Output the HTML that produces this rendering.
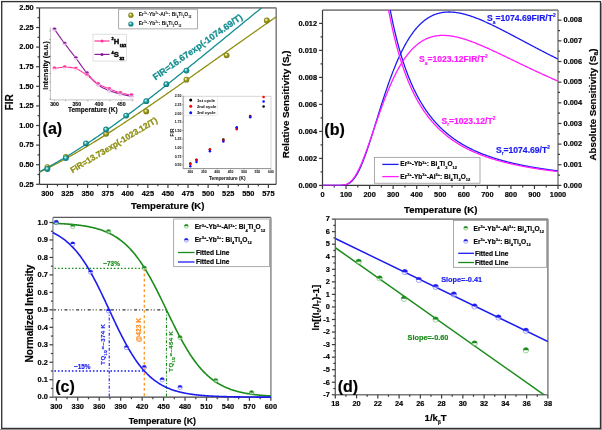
<!DOCTYPE html>
<html><head><meta charset="utf-8"><title>Figure</title>
<style>
html,body{margin:0;padding:0;background:#fff;}
body{width:602px;height:430px;overflow:hidden;}
svg{display:block;font-family:"Liberation Sans", sans-serif;will-change:transform;filter:blur(0.3px);}
</style></head>
<body>
<svg width="602" height="430" viewBox="0 0 602 430">
<rect x="0" y="0" width="602" height="430" fill="#fff"/>
<rect x="601" y="3" width="1" height="427" fill="#ababab"/>
<rect x="0" y="429" width="602" height="1" fill="#a0a0a0"/>
<rect x="1.7" y="1.6" width="598.8" height="426.85" fill="none" stroke="#333333" stroke-width="1.35" />
<line x1="39.5" y1="7.85" x2="276.2" y2="7.85" stroke="#858585" stroke-width="1.6" />
<line x1="276.2" y1="7.85" x2="276.2" y2="184.3" stroke="#858585" stroke-width="1.6" />
<line x1="39.5" y1="184.3" x2="276.2" y2="184.3" stroke="#3a3a3a" stroke-width="1.2" />
<line x1="39.5" y1="7.85" x2="39.5" y2="184.3" stroke="#3a3a3a" stroke-width="1.2" />
<line x1="47.4" y1="184.3" x2="47.4" y2="187.9" stroke="#3a3a3a" stroke-width="1.2" />
<line x1="67.49" y1="184.3" x2="67.49" y2="187.9" stroke="#3a3a3a" stroke-width="1.2" />
<line x1="87.58" y1="184.3" x2="87.58" y2="187.9" stroke="#3a3a3a" stroke-width="1.2" />
<line x1="107.67" y1="184.3" x2="107.67" y2="187.9" stroke="#3a3a3a" stroke-width="1.2" />
<line x1="127.76" y1="184.3" x2="127.76" y2="187.9" stroke="#3a3a3a" stroke-width="1.2" />
<line x1="147.85" y1="184.3" x2="147.85" y2="187.9" stroke="#3a3a3a" stroke-width="1.2" />
<line x1="167.94" y1="184.3" x2="167.94" y2="187.9" stroke="#3a3a3a" stroke-width="1.2" />
<line x1="188.03" y1="184.3" x2="188.03" y2="187.9" stroke="#3a3a3a" stroke-width="1.2" />
<line x1="208.12" y1="184.3" x2="208.12" y2="187.9" stroke="#3a3a3a" stroke-width="1.2" />
<line x1="228.21" y1="184.3" x2="228.21" y2="187.9" stroke="#3a3a3a" stroke-width="1.2" />
<line x1="248.3" y1="184.3" x2="248.3" y2="187.9" stroke="#3a3a3a" stroke-width="1.2" />
<line x1="268.39" y1="184.3" x2="268.39" y2="187.9" stroke="#3a3a3a" stroke-width="1.2" />
<line x1="57.45" y1="184.3" x2="57.45" y2="186.3" stroke="#3a3a3a" stroke-width="1.2" />
<line x1="77.53" y1="184.3" x2="77.53" y2="186.3" stroke="#3a3a3a" stroke-width="1.2" />
<line x1="97.62" y1="184.3" x2="97.62" y2="186.3" stroke="#3a3a3a" stroke-width="1.2" />
<line x1="117.72" y1="184.3" x2="117.72" y2="186.3" stroke="#3a3a3a" stroke-width="1.2" />
<line x1="137.81" y1="184.3" x2="137.81" y2="186.3" stroke="#3a3a3a" stroke-width="1.2" />
<line x1="157.89" y1="184.3" x2="157.89" y2="186.3" stroke="#3a3a3a" stroke-width="1.2" />
<line x1="177.99" y1="184.3" x2="177.99" y2="186.3" stroke="#3a3a3a" stroke-width="1.2" />
<line x1="198.07" y1="184.3" x2="198.07" y2="186.3" stroke="#3a3a3a" stroke-width="1.2" />
<line x1="218.16" y1="184.3" x2="218.16" y2="186.3" stroke="#3a3a3a" stroke-width="1.2" />
<line x1="238.25" y1="184.3" x2="238.25" y2="186.3" stroke="#3a3a3a" stroke-width="1.2" />
<line x1="258.34" y1="184.3" x2="258.34" y2="186.3" stroke="#3a3a3a" stroke-width="1.2" />
<line x1="39.5" y1="184.3" x2="36.1" y2="184.3" stroke="#3a3a3a" stroke-width="1.2" />
<line x1="39.5" y1="164.7" x2="36.1" y2="164.7" stroke="#3a3a3a" stroke-width="1.2" />
<line x1="39.5" y1="145.1" x2="36.1" y2="145.1" stroke="#3a3a3a" stroke-width="1.2" />
<line x1="39.5" y1="125.5" x2="36.1" y2="125.5" stroke="#3a3a3a" stroke-width="1.2" />
<line x1="39.5" y1="105.9" x2="36.1" y2="105.9" stroke="#3a3a3a" stroke-width="1.2" />
<line x1="39.5" y1="86.3" x2="36.1" y2="86.3" stroke="#3a3a3a" stroke-width="1.2" />
<line x1="39.5" y1="66.7" x2="36.1" y2="66.7" stroke="#3a3a3a" stroke-width="1.2" />
<line x1="39.5" y1="47.1" x2="36.1" y2="47.1" stroke="#3a3a3a" stroke-width="1.2" />
<line x1="39.5" y1="27.5" x2="36.1" y2="27.5" stroke="#3a3a3a" stroke-width="1.2" />
<line x1="39.5" y1="7.9" x2="36.1" y2="7.9" stroke="#3a3a3a" stroke-width="1.2" />
<line x1="39.5" y1="174.5" x2="37.5" y2="174.5" stroke="#3a3a3a" stroke-width="1.2" />
<line x1="39.5" y1="154.9" x2="37.5" y2="154.9" stroke="#3a3a3a" stroke-width="1.2" />
<line x1="39.5" y1="135.3" x2="37.5" y2="135.3" stroke="#3a3a3a" stroke-width="1.2" />
<line x1="39.5" y1="115.7" x2="37.5" y2="115.7" stroke="#3a3a3a" stroke-width="1.2" />
<line x1="39.5" y1="96.1" x2="37.5" y2="96.1" stroke="#3a3a3a" stroke-width="1.2" />
<line x1="39.5" y1="76.5" x2="37.5" y2="76.5" stroke="#3a3a3a" stroke-width="1.2" />
<line x1="39.5" y1="56.9" x2="37.5" y2="56.9" stroke="#3a3a3a" stroke-width="1.2" />
<line x1="39.5" y1="37.3" x2="37.5" y2="37.3" stroke="#3a3a3a" stroke-width="1.2" />
<line x1="39.5" y1="17.7" x2="37.5" y2="17.7" stroke="#3a3a3a" stroke-width="1.2" />
<text x="47.4" y="196.05" font-size="7.4" text-anchor="middle" fill="#000" font-weight="bold"  stroke="#000" stroke-width="0.180">300</text>
<text x="67.49" y="196.05" font-size="7.4" text-anchor="middle" fill="#000" font-weight="bold"  stroke="#000" stroke-width="0.180">325</text>
<text x="87.58" y="196.05" font-size="7.4" text-anchor="middle" fill="#000" font-weight="bold"  stroke="#000" stroke-width="0.180">350</text>
<text x="107.67" y="196.05" font-size="7.4" text-anchor="middle" fill="#000" font-weight="bold"  stroke="#000" stroke-width="0.180">375</text>
<text x="127.76" y="196.05" font-size="7.4" text-anchor="middle" fill="#000" font-weight="bold"  stroke="#000" stroke-width="0.180">400</text>
<text x="147.85" y="196.05" font-size="7.4" text-anchor="middle" fill="#000" font-weight="bold"  stroke="#000" stroke-width="0.180">425</text>
<text x="167.94" y="196.05" font-size="7.4" text-anchor="middle" fill="#000" font-weight="bold"  stroke="#000" stroke-width="0.180">450</text>
<text x="188.03" y="196.05" font-size="7.4" text-anchor="middle" fill="#000" font-weight="bold"  stroke="#000" stroke-width="0.180">475</text>
<text x="208.12" y="196.05" font-size="7.4" text-anchor="middle" fill="#000" font-weight="bold"  stroke="#000" stroke-width="0.180">500</text>
<text x="228.21" y="196.05" font-size="7.4" text-anchor="middle" fill="#000" font-weight="bold"  stroke="#000" stroke-width="0.180">525</text>
<text x="248.3" y="196.05" font-size="7.4" text-anchor="middle" fill="#000" font-weight="bold"  stroke="#000" stroke-width="0.180">550</text>
<text x="268.39" y="196.05" font-size="7.4" text-anchor="middle" fill="#000" font-weight="bold"  stroke="#000" stroke-width="0.180">575</text>
<text x="33.7" y="186.55" font-size="7.4" text-anchor="end" fill="#000" font-weight="bold"  stroke="#000" stroke-width="0.180">0.25</text>
<text x="33.7" y="166.95" font-size="7.4" text-anchor="end" fill="#000" font-weight="bold"  stroke="#000" stroke-width="0.180">0.50</text>
<text x="33.7" y="147.35" font-size="7.4" text-anchor="end" fill="#000" font-weight="bold"  stroke="#000" stroke-width="0.180">0.75</text>
<text x="33.7" y="127.75" font-size="7.4" text-anchor="end" fill="#000" font-weight="bold"  stroke="#000" stroke-width="0.180">1.00</text>
<text x="33.7" y="108.15" font-size="7.4" text-anchor="end" fill="#000" font-weight="bold"  stroke="#000" stroke-width="0.180">1.25</text>
<text x="33.7" y="88.55" font-size="7.4" text-anchor="end" fill="#000" font-weight="bold"  stroke="#000" stroke-width="0.180">1.50</text>
<text x="33.7" y="68.95" font-size="7.4" text-anchor="end" fill="#000" font-weight="bold"  stroke="#000" stroke-width="0.180">1.75</text>
<text x="33.7" y="49.35" font-size="7.4" text-anchor="end" fill="#000" font-weight="bold"  stroke="#000" stroke-width="0.180">2.00</text>
<text x="33.7" y="29.75" font-size="7.4" text-anchor="end" fill="#000" font-weight="bold"  stroke="#000" stroke-width="0.180">2.25</text>
<text x="33.7" y="10.15" font-size="7.4" text-anchor="end" fill="#000" font-weight="bold"  stroke="#000" stroke-width="0.180">2.50</text>
<text x="167.8" y="208.6" font-size="9.6" text-anchor="middle" fill="#000" font-weight="bold"  stroke="#000" stroke-width="0.180">Temperature (K)</text>
<text x="12.9" y="102.3" font-size="10.0" text-anchor="middle" fill="#000" font-weight="bold" transform="rotate(-90 12.9 102.3)"  stroke="#000" stroke-width="0.180">FIR</text>
<text x="42.55" y="133.95" font-size="16" text-anchor="start" fill="#000" font-weight="bold"  stroke="#000" stroke-width="0.180">(a)</text>
<defs><radialGradient id="gO" cx="0.5" cy="0.5" r="0.55" fx="0.36" fy="0.34"><stop offset="0" stop-color="#ffffff"/><stop offset="0.22" stop-color="#dede98"/><stop offset="0.5" stop-color="#9a9a1e"/><stop offset="1" stop-color="#707004"/></radialGradient><radialGradient id="gT" cx="0.5" cy="0.5" r="0.55" fx="0.36" fy="0.34"><stop offset="0" stop-color="#ffffff"/><stop offset="0.22" stop-color="#98dede"/><stop offset="0.5" stop-color="#1e9a9a"/><stop offset="1" stop-color="#047070"/></radialGradient></defs>
<polyline points="39.2,172.37 40.39,171.8 41.57,171.23 42.76,170.65 43.94,170.07 45.13,169.48 46.31,168.89 47.5,168.3 48.68,167.7 49.87,167.1 51.05,166.49 52.24,165.88 53.42,165.27 54.61,164.65 55.79,164.03 56.98,163.4 58.16,162.77 59.35,162.14 60.53,161.5 61.72,160.86 62.9,160.21 64.09,159.56 65.27,158.91 66.46,158.26 67.64,157.6 68.83,156.94 70.01,156.27 71.2,155.6 72.38,154.93 73.57,154.25 74.75,153.58 75.94,152.89 77.12,152.21 78.31,151.52 79.49,150.83 80.68,150.13 81.86,149.44 83.04,148.74 84.23,148.03 85.41,147.33 86.6,146.62 87.78,145.91 88.97,145.19 90.15,144.47 91.34,143.75 92.52,143.03 93.71,142.31 94.89,141.58 96.08,140.85 97.26,140.12 98.45,139.38 99.63,138.64 100.82,137.9 102,137.16 103.19,136.42 104.37,135.67 105.56,134.92 106.74,134.17 107.93,133.41 109.11,132.66 110.3,131.9 111.48,131.14 112.67,130.38 113.85,129.61 115.04,128.85 116.22,128.08 117.41,127.31 118.59,126.54 119.78,125.76 120.96,124.99 122.15,124.21 123.33,123.43 124.52,122.65 125.7,121.87 126.89,121.08 128.07,120.3 129.26,119.51 130.44,118.72 131.63,117.93 132.81,117.14 134,116.34 135.18,115.55 136.37,114.75 137.55,113.95 138.74,113.15 139.92,112.35 141.11,111.55 142.29,110.75 143.48,109.94 144.66,109.14 145.85,108.33 147.03,107.52 148.21,106.71 149.4,105.9 150.58,105.09 151.77,104.28 152.95,103.46 154.14,102.65 155.32,101.83 156.51,101.02 157.69,100.2 158.88,99.38 160.06,98.56 161.25,97.74 162.43,96.92 163.62,96.1 164.8,95.27 165.99,94.45 167.17,93.63 168.36,92.8 169.54,91.97 170.73,91.15 171.91,90.32 173.1,89.49 174.28,88.66 175.47,87.83 176.65,87 177.84,86.17 179.02,85.34 180.21,84.51 181.39,83.68 182.58,82.84 183.76,82.01 184.95,81.18 186.13,80.34 187.32,79.51 188.5,78.67 189.69,77.84 190.87,77 192.06,76.17 193.24,75.33 194.43,74.49 195.61,73.66 196.8,72.82 197.98,71.98 199.17,71.14 200.35,70.3 201.54,69.47 202.72,68.63 203.91,67.79 205.09,66.95 206.28,66.11 207.46,65.27 208.65,64.43 209.83,63.59 211.01,62.75 212.2,61.91 213.38,61.07 214.57,60.23 215.75,59.39 216.94,58.55 218.12,57.71 219.31,56.87 220.49,56.03 221.68,55.19 222.86,54.36 224.05,53.52 225.23,52.68 226.42,51.84 227.6,51 228.79,50.16 229.97,49.32 231.16,48.48 232.34,47.64 233.53,46.8 234.71,45.96 235.9,45.13 237.08,44.29 238.27,43.45 239.45,42.61 240.64,41.77 241.82,40.94 243.01,40.1 244.19,39.26 245.38,38.43 246.56,37.59 247.75,36.76 248.93,35.92 250.12,35.08 251.3,34.25 252.49,33.42 253.67,32.58 254.86,31.75 256.04,30.91 257.23,30.08 258.41,29.25 259.6,28.42 260.78,27.58 261.97,26.75 263.15,25.92 264.34,25.09 265.52,24.26 266.71,23.43 267.89,22.6 269.08,21.77 270.26,20.94 271.45,20.12 272.63,19.29 273.82,18.46 275,17.64 276.18,16.81" fill="none" stroke="#8f8f12" stroke-width="1.3" stroke-linejoin="round" />
<polyline points="39.2,171.86 40.39,171.25 41.57,170.64 42.76,170.02 43.94,169.4 45.13,168.77 46.31,168.14 47.5,167.5 48.68,166.86 49.87,166.21 51.05,165.56 52.24,164.9 53.42,164.24 54.61,163.57 55.79,162.9 56.98,162.22 58.16,161.54 59.35,160.85 60.53,160.16 61.72,159.47 62.9,158.77 64.09,158.07 65.27,157.36 66.46,156.65 67.64,155.93 68.83,155.21 70.01,154.48 71.2,153.75 72.38,153.02 73.57,152.28 74.75,151.54 75.94,150.79 77.12,150.05 78.31,149.29 79.49,148.53 80.68,147.77 81.86,147.01 83.04,146.24 84.23,145.47 85.41,144.69 86.6,143.91 87.78,143.13 88.97,142.34 90.15,141.55 91.34,140.76 92.52,139.96 93.71,139.16 94.89,138.36 96.08,137.55 97.26,136.74 98.45,135.93 99.63,135.11 100.82,134.29 102,133.47 103.19,132.64 104.37,131.81 105.56,130.98 106.74,130.14 107.93,129.31 109.11,128.47 110.3,127.62 111.48,126.78 112.67,125.93 113.85,125.08 115.04,124.22 116.22,123.37 117.41,122.51 118.59,121.64 119.78,120.78 120.96,119.91 122.15,119.04 123.33,118.17 124.52,117.3 125.7,116.42 126.89,115.54 128.07,114.66 129.26,113.78 130.44,112.89 131.63,112.01 132.81,111.12 134,110.22 135.18,109.33 136.37,108.43 137.55,107.54 138.74,106.64 139.92,105.74 141.11,104.83 142.29,103.93 143.48,103.02 144.66,102.11 145.85,101.2 147.03,100.29 148.21,99.37 149.4,98.46 150.58,97.54 151.77,96.62 152.95,95.7 154.14,94.78 155.32,93.85 156.51,92.93 157.69,92 158.88,91.07 160.06,90.14 161.25,89.21 162.43,88.28 163.62,87.35 164.8,86.41 165.99,85.48 167.17,84.54 168.36,83.6 169.54,82.66 170.73,81.72 171.91,80.78 173.1,79.83 174.28,78.89 175.47,77.94 176.65,77 177.84,76.05 179.02,75.1 180.21,74.15 181.39,73.2 182.58,72.25 183.76,71.3 184.95,70.35 186.13,69.39 187.32,68.44 188.5,67.48 189.69,66.53 190.87,65.57 192.06,64.61 193.24,63.65 194.43,62.69 195.61,61.73 196.8,60.77 197.98,59.81 199.17,58.85 200.35,57.89 201.54,56.93 202.72,55.96 203.91,55 205.09,54.04 206.28,53.07 207.46,52.11 208.65,51.14 209.83,50.18 211.01,49.21 212.2,48.24 213.38,47.28 214.57,46.31 215.75,45.34 216.94,44.37 218.12,43.4 219.31,42.43 220.49,41.47 221.68,40.5 222.86,39.53 224.05,38.56 225.23,37.59 226.42,36.62 227.6,35.65 228.79,34.68 229.97,33.71 231.16,32.74 232.34,31.77 233.53,30.8 234.71,29.83 235.9,28.86 237.08,27.88 238.27,26.91 239.45,25.94 240.64,24.97 241.82,24 243.01,23.03 244.19,22.06 245.38,21.09 246.56,20.12 247.75,19.15 248.93,18.18 250.12,17.21 251.3,16.24 252.49,15.27 253.67,14.3 254.86,13.33 256.04,12.36 257.23,11.39 258.41,10.42 259.6,9.46 260.78,8.49 261.97,7.85" fill="none" stroke="#138d8f" stroke-width="1.3" stroke-linejoin="round" />
<circle cx="47.4" cy="167.05" r="2.9" fill="url(#gO)" stroke="none" stroke-width="0" />
<circle cx="65.88" cy="156.86" r="2.9" fill="url(#gO)" stroke="none" stroke-width="0" />
<circle cx="106.06" cy="133.73" r="2.9" fill="url(#gO)" stroke="none" stroke-width="0" />
<circle cx="146.24" cy="111.39" r="2.9" fill="url(#gO)" stroke="none" stroke-width="0" />
<circle cx="186.42" cy="79.64" r="2.9" fill="url(#gO)" stroke="none" stroke-width="0" />
<circle cx="226.6" cy="55.33" r="2.9" fill="url(#gO)" stroke="none" stroke-width="0" />
<circle cx="266.78" cy="20.44" r="2.9" fill="url(#gO)" stroke="none" stroke-width="0" />
<circle cx="47.4" cy="169.01" r="2.9" fill="url(#gT)" stroke="none" stroke-width="0" />
<circle cx="65.88" cy="158.04" r="2.9" fill="url(#gT)" stroke="none" stroke-width="0" />
<circle cx="85.97" cy="143.38" r="2.9" fill="url(#gT)" stroke="none" stroke-width="0" />
<circle cx="106.06" cy="129.5" r="2.9" fill="url(#gT)" stroke="none" stroke-width="0" />
<circle cx="126.15" cy="115.54" r="2.9" fill="url(#gT)" stroke="none" stroke-width="0" />
<circle cx="146.24" cy="101.2" r="2.9" fill="url(#gT)" stroke="none" stroke-width="0" />
<circle cx="166.33" cy="84.18" r="2.9" fill="url(#gT)" stroke="none" stroke-width="0" />
<circle cx="186.42" cy="70.62" r="2.9" fill="url(#gT)" stroke="none" stroke-width="0" />
<text x="155.5" y="80.5" font-size="9.0" text-anchor="start" fill="#138d8f" font-weight="bold" transform="rotate(-35.3 155.5 80.5)" stroke="#138d8f" stroke-width="0.25">FIR=16.67exp(-1074.69/T)</text>
<text x="72.4" y="173.2" font-size="8.4" text-anchor="start" fill="#8f8f12" font-weight="bold" transform="rotate(-30.9 72.4 173.2)" stroke="#8f8f12" stroke-width="0.3">FIR=13.73exp(-1023.12/T)</text>
<rect x="118.7" y="9.2" width="78.7" height="19.7" fill="none" stroke="#888" stroke-width="0.7" />
<circle cx="130.9" cy="15.2" r="2.6" fill="url(#gO)" stroke="none" stroke-width="0" />
<circle cx="130.9" cy="24" r="2.6" fill="url(#gT)" stroke="none" stroke-width="0" />
<text x="138.7" y="16.4" font-size="5.0" text-anchor="start" fill="#000" font-weight="bold" stroke="none">Er<tspan font-size="2.9" dy="-2.4">3+</tspan><tspan dy="2.4">-Yb</tspan><tspan font-size="2.9" dy="-2.4">3+</tspan><tspan dy="2.4">-Al</tspan><tspan font-size="2.9" dy="-2.4">3+</tspan><tspan dy="2.4">: Bi</tspan><tspan font-size="2.9" dy="1.8">4</tspan><tspan dy="-1.8">Ti</tspan><tspan font-size="2.9" dy="1.8">3</tspan><tspan dy="-1.8">O</tspan><tspan font-size="2.9" dy="1.8">12</tspan></text>
<text x="138.7" y="25.3" font-size="5.0" text-anchor="start" fill="#000" font-weight="bold" stroke="none">Er<tspan font-size="2.9" dy="-2.4">3+</tspan><tspan dy="2.4">-Yb</tspan><tspan font-size="2.9" dy="-2.4">3+</tspan><tspan dy="2.4">: Bi</tspan><tspan font-size="2.9" dy="1.8">4</tspan><tspan dy="-1.8">Ti</tspan><tspan font-size="2.9" dy="1.8">3</tspan><tspan dy="-1.8">O</tspan><tspan font-size="2.9" dy="1.8">12</tspan></text>
<line x1="50.5" y1="27.5" x2="50.5" y2="99.9" stroke="#aaa" stroke-width="0.7" />
<line x1="50.5" y1="99.9" x2="134" y2="99.9" stroke="#aaa" stroke-width="0.7" />
<line x1="54.5" y1="99.9" x2="54.5" y2="101.4" stroke="#888" stroke-width="0.6" />
<line x1="65.62" y1="99.9" x2="65.62" y2="101.4" stroke="#888" stroke-width="0.6" />
<line x1="76.75" y1="99.9" x2="76.75" y2="101.4" stroke="#888" stroke-width="0.6" />
<line x1="87.88" y1="99.9" x2="87.88" y2="101.4" stroke="#888" stroke-width="0.6" />
<line x1="99" y1="99.9" x2="99" y2="101.4" stroke="#888" stroke-width="0.6" />
<line x1="110.12" y1="99.9" x2="110.12" y2="101.4" stroke="#888" stroke-width="0.6" />
<line x1="121.25" y1="99.9" x2="121.25" y2="101.4" stroke="#888" stroke-width="0.6" />
<line x1="132.38" y1="99.9" x2="132.38" y2="101.4" stroke="#888" stroke-width="0.6" />
<line x1="50.5" y1="31" x2="49" y2="31" stroke="#888" stroke-width="0.6" />
<line x1="50.5" y1="39.5" x2="49" y2="39.5" stroke="#888" stroke-width="0.6" />
<line x1="50.5" y1="48" x2="49" y2="48" stroke="#888" stroke-width="0.6" />
<line x1="50.5" y1="56.5" x2="49" y2="56.5" stroke="#888" stroke-width="0.6" />
<line x1="50.5" y1="65" x2="49" y2="65" stroke="#888" stroke-width="0.6" />
<line x1="50.5" y1="73.5" x2="49" y2="73.5" stroke="#888" stroke-width="0.6" />
<line x1="50.5" y1="82" x2="49" y2="82" stroke="#888" stroke-width="0.6" />
<line x1="50.5" y1="90.5" x2="49" y2="90.5" stroke="#888" stroke-width="0.6" />
<line x1="50.5" y1="99" x2="49" y2="99" stroke="#888" stroke-width="0.6" />
<text x="54.5" y="106.4" font-size="5.2" text-anchor="middle" fill="#111" font-weight="bold"  stroke="#111" stroke-width="0.130">300</text>
<text x="76.75" y="106.4" font-size="5.2" text-anchor="middle" fill="#111" font-weight="bold"  stroke="#111" stroke-width="0.130">350</text>
<text x="99" y="106.4" font-size="5.2" text-anchor="middle" fill="#111" font-weight="bold"  stroke="#111" stroke-width="0.130">400</text>
<text x="121.25" y="106.4" font-size="5.2" text-anchor="middle" fill="#111" font-weight="bold"  stroke="#111" stroke-width="0.130">450</text>
<text x="92.8" y="112.4" font-size="6.5" text-anchor="middle" fill="#111" font-weight="bold"  stroke="#111" stroke-width="0.163">Temperature (K)</text>
<text x="48.5" y="65.4" font-size="7.2" text-anchor="middle" fill="#111" font-weight="bold" transform="rotate(-90 48.5 65.4)"  stroke="#111" stroke-width="0.180">Intensity (a.u.)</text>
<polyline points="54.5,29.4 55.28,30.49 56.32,31.94 57.55,33.67 58.92,35.59 60.38,37.63 61.87,39.7 63.34,41.71 64.73,43.6 66.08,45.39 67.45,47.19 68.84,48.99 70.24,50.79 71.65,52.61 73.06,54.43 74.46,56.26 75.86,58.1 77.25,59.98 78.64,61.91 80.03,63.87 81.42,65.83 82.81,67.77 84.2,69.66 85.59,71.48 86.98,73.2 88.38,74.86 89.77,76.48 91.16,78.06 92.55,79.58 93.94,81.03 95.33,82.39 96.72,83.65 98.11,84.8 99.5,85.82 100.89,86.71 102.28,87.51 103.67,88.21 105.06,88.86 106.45,89.45 107.84,90.03 109.23,90.6 110.63,91.15 112.02,91.64 113.41,92.09 114.8,92.51 116.19,92.9 117.58,93.28 118.97,93.64 120.36,94 121.83,94.36 123.4,94.73 125.02,95.08 126.62,95.41 128.13,95.72 129.49,95.99 130.63,96.22 131.49,96.4" fill="none" stroke="#8c1a9c" stroke-width="1.1" stroke-linejoin="round" />
<polyline points="54.5,68.4 55.28,68.29 56.32,68.12 57.55,67.92 58.92,67.71 60.38,67.51 61.87,67.35 63.34,67.23 64.73,67.2 66.08,67.22 67.45,67.25 68.84,67.31 70.24,67.41 71.65,67.58 73.06,67.82 74.46,68.16 75.86,68.6 77.25,69.16 78.64,69.84 80.03,70.61 81.42,71.45 82.81,72.35 84.2,73.29 85.59,74.24 86.98,75.2 88.38,76.2 89.77,77.29 91.16,78.44 92.55,79.6 93.94,80.75 95.33,81.86 96.72,82.88 98.11,83.8 99.5,84.6 100.89,85.33 102.28,85.98 103.67,86.59 105.06,87.16 106.45,87.7 107.84,88.25 109.23,88.8 110.63,89.36 112.02,89.91 113.41,90.45 114.8,90.97 116.19,91.47 117.58,91.94 118.97,92.39 120.36,92.8 121.83,93.18 123.4,93.55 125.02,93.89 126.62,94.2 128.13,94.48 129.49,94.73 130.63,94.93 131.49,95.1" fill="none" stroke="#ff3399" stroke-width="1.1" stroke-linejoin="round" />
<circle cx="54.5" cy="29.4" r="1.9" fill="#fff" fill-opacity="0.45" stroke="#e0b8e8" stroke-width="0.7" stroke-opacity="1"/>
<path d="M52.6,29.4 A1.9,1.9 0 0 1 56.4,29.4 Z" fill="#8c1a9c"/>
<circle cx="64.73" cy="43.6" r="1.9" fill="#fff" fill-opacity="0.45" stroke="#e0b8e8" stroke-width="0.7" stroke-opacity="1"/>
<path d="M62.84,43.6 A1.9,1.9 0 0 1 66.64,43.6 Z" fill="#8c1a9c"/>
<circle cx="75.86" cy="58.1" r="1.9" fill="#fff" fill-opacity="0.45" stroke="#e0b8e8" stroke-width="0.7" stroke-opacity="1"/>
<path d="M73.96,58.1 A1.9,1.9 0 0 1 77.76,58.1 Z" fill="#8c1a9c"/>
<circle cx="86.98" cy="73.2" r="1.9" fill="#fff" fill-opacity="0.45" stroke="#e0b8e8" stroke-width="0.7" stroke-opacity="1"/>
<path d="M85.08,73.2 A1.9,1.9 0 0 1 88.89,73.2 Z" fill="#8c1a9c"/>
<circle cx="98.11" cy="84.8" r="1.9" fill="#fff" fill-opacity="0.45" stroke="#e0b8e8" stroke-width="0.7" stroke-opacity="1"/>
<path d="M96.21,84.8 A1.9,1.9 0 0 1 100.01,84.8 Z" fill="#8c1a9c"/>
<circle cx="109.23" cy="90.6" r="1.9" fill="#fff" fill-opacity="0.45" stroke="#e0b8e8" stroke-width="0.7" stroke-opacity="1"/>
<path d="M107.33,90.6 A1.9,1.9 0 0 1 111.14,90.6 Z" fill="#8c1a9c"/>
<circle cx="120.36" cy="94" r="1.9" fill="#fff" fill-opacity="0.45" stroke="#e0b8e8" stroke-width="0.7" stroke-opacity="1"/>
<path d="M118.46,94 A1.9,1.9 0 0 1 122.26,94 Z" fill="#8c1a9c"/>
<circle cx="131.49" cy="96.4" r="1.9" fill="#fff" fill-opacity="0.45" stroke="#e0b8e8" stroke-width="0.7" stroke-opacity="1"/>
<path d="M129.59,96.4 A1.9,1.9 0 0 1 133.39,96.4 Z" fill="#8c1a9c"/>
<circle cx="54.5" cy="68.4" r="1.9" fill="#fff" fill-opacity="0.45" stroke="#ffc0e0" stroke-width="0.7" stroke-opacity="1"/>
<path d="M52.6,68.4 A1.9,1.9 0 0 1 56.4,68.4 Z" fill="#ff3399"/>
<circle cx="64.73" cy="67.2" r="1.9" fill="#fff" fill-opacity="0.45" stroke="#ffc0e0" stroke-width="0.7" stroke-opacity="1"/>
<path d="M62.84,67.2 A1.9,1.9 0 0 1 66.64,67.2 Z" fill="#ff3399"/>
<circle cx="75.86" cy="68.6" r="1.9" fill="#fff" fill-opacity="0.45" stroke="#ffc0e0" stroke-width="0.7" stroke-opacity="1"/>
<path d="M73.96,68.6 A1.9,1.9 0 0 1 77.76,68.6 Z" fill="#ff3399"/>
<circle cx="86.98" cy="75.2" r="1.9" fill="#fff" fill-opacity="0.45" stroke="#ffc0e0" stroke-width="0.7" stroke-opacity="1"/>
<path d="M85.08,75.2 A1.9,1.9 0 0 1 88.89,75.2 Z" fill="#ff3399"/>
<circle cx="98.11" cy="83.8" r="1.9" fill="#fff" fill-opacity="0.45" stroke="#ffc0e0" stroke-width="0.7" stroke-opacity="1"/>
<path d="M96.21,83.8 A1.9,1.9 0 0 1 100.01,83.8 Z" fill="#ff3399"/>
<circle cx="109.23" cy="88.8" r="1.9" fill="#fff" fill-opacity="0.45" stroke="#ffc0e0" stroke-width="0.7" stroke-opacity="1"/>
<path d="M107.33,88.8 A1.9,1.9 0 0 1 111.14,88.8 Z" fill="#ff3399"/>
<circle cx="120.36" cy="92.8" r="1.9" fill="#fff" fill-opacity="0.45" stroke="#ffc0e0" stroke-width="0.7" stroke-opacity="1"/>
<path d="M118.46,92.8 A1.9,1.9 0 0 1 122.26,92.8 Z" fill="#ff3399"/>
<circle cx="131.49" cy="95.1" r="1.9" fill="#fff" fill-opacity="0.45" stroke="#ffc0e0" stroke-width="0.7" stroke-opacity="1"/>
<path d="M129.59,95.1 A1.9,1.9 0 0 1 133.39,95.1 Z" fill="#ff3399"/>
<rect x="93" y="34.2" width="33.4" height="26.9" fill="none" stroke="#ccc" stroke-width="0.6" />
<line x1="94.5" y1="41" x2="109.5" y2="41" stroke="#ff3399" stroke-width="1.2" />
<circle cx="102" cy="41" r="1.5" fill="#ff3399" stroke="none" stroke-width="0" />
<line x1="94.5" y1="54.4" x2="109.5" y2="54.4" stroke="#8c1a9c" stroke-width="1.2" />
<circle cx="102" cy="54.4" r="1.5" fill="#8c1a9c" stroke="none" stroke-width="0" />
<text x="111.5" y="43.9" font-size="7.6" text-anchor="start" fill="#111" font-weight="bold" stroke="#111" stroke-width="0.5"><tspan font-size="3.8" dy="-3.6">2</tspan><tspan dy="3.6">H</tspan><tspan font-size="3.4" dy="2.9">&#8201;11/2</tspan></text>
<text x="111.5" y="57.3" font-size="7.6" text-anchor="start" fill="#111" font-weight="bold" stroke="#111" stroke-width="0.5"><tspan font-size="3.8" dy="-3.6">4</tspan><tspan dy="3.6">S</tspan><tspan font-size="3.4" dy="2.9">&#8201;3/2</tspan></text>
<rect x="183.2" y="96.2" width="87.8" height="72.4" fill="none" stroke="#bbb" stroke-width="0.6" />
<line x1="183.2" y1="96.2" x2="183.2" y2="168.6" stroke="#666" stroke-width="0.6" />
<line x1="183.2" y1="168.6" x2="271" y2="168.6" stroke="#666" stroke-width="0.6" />
<line x1="190.3" y1="168.6" x2="190.3" y2="169.8" stroke="#666" stroke-width="0.5" />
<text x="190.3" y="173.1" font-size="3.4" text-anchor="middle" fill="#222" font-weight="bold"  stroke="#222" stroke-width="0.050">300</text>
<line x1="203.73" y1="168.6" x2="203.73" y2="169.8" stroke="#666" stroke-width="0.5" />
<text x="203.73" y="173.1" font-size="3.4" text-anchor="middle" fill="#222" font-weight="bold"  stroke="#222" stroke-width="0.050">350</text>
<line x1="217.15" y1="168.6" x2="217.15" y2="169.8" stroke="#666" stroke-width="0.5" />
<text x="217.15" y="173.1" font-size="3.4" text-anchor="middle" fill="#222" font-weight="bold"  stroke="#222" stroke-width="0.050">400</text>
<line x1="230.58" y1="168.6" x2="230.58" y2="169.8" stroke="#666" stroke-width="0.5" />
<text x="230.58" y="173.1" font-size="3.4" text-anchor="middle" fill="#222" font-weight="bold"  stroke="#222" stroke-width="0.050">450</text>
<line x1="244" y1="168.6" x2="244" y2="169.8" stroke="#666" stroke-width="0.5" />
<text x="244" y="173.1" font-size="3.4" text-anchor="middle" fill="#222" font-weight="bold"  stroke="#222" stroke-width="0.050">500</text>
<line x1="257.43" y1="168.6" x2="257.43" y2="169.8" stroke="#666" stroke-width="0.5" />
<text x="257.43" y="173.1" font-size="3.4" text-anchor="middle" fill="#222" font-weight="bold"  stroke="#222" stroke-width="0.050">550</text>
<line x1="270.85" y1="168.6" x2="270.85" y2="169.8" stroke="#666" stroke-width="0.5" />
<text x="270.85" y="173.1" font-size="3.4" text-anchor="middle" fill="#222" font-weight="bold"  stroke="#222" stroke-width="0.050">600</text>
<line x1="183.2" y1="164.9" x2="182" y2="164.9" stroke="#666" stroke-width="0.5" />
<text x="181.3" y="166.1" font-size="3.4" text-anchor="end" fill="#222" font-weight="bold"  stroke="#222" stroke-width="0.050">0.50</text>
<line x1="183.2" y1="156.3" x2="182" y2="156.3" stroke="#666" stroke-width="0.5" />
<text x="181.3" y="157.5" font-size="3.4" text-anchor="end" fill="#222" font-weight="bold"  stroke="#222" stroke-width="0.050">0.75</text>
<line x1="183.2" y1="147.7" x2="182" y2="147.7" stroke="#666" stroke-width="0.5" />
<text x="181.3" y="148.9" font-size="3.4" text-anchor="end" fill="#222" font-weight="bold"  stroke="#222" stroke-width="0.050">1.00</text>
<line x1="183.2" y1="139.1" x2="182" y2="139.1" stroke="#666" stroke-width="0.5" />
<text x="181.3" y="140.3" font-size="3.4" text-anchor="end" fill="#222" font-weight="bold"  stroke="#222" stroke-width="0.050">1.25</text>
<line x1="183.2" y1="130.5" x2="182" y2="130.5" stroke="#666" stroke-width="0.5" />
<text x="181.3" y="131.7" font-size="3.4" text-anchor="end" fill="#222" font-weight="bold"  stroke="#222" stroke-width="0.050">1.50</text>
<line x1="183.2" y1="121.9" x2="182" y2="121.9" stroke="#666" stroke-width="0.5" />
<text x="181.3" y="123.1" font-size="3.4" text-anchor="end" fill="#222" font-weight="bold"  stroke="#222" stroke-width="0.050">1.75</text>
<line x1="183.2" y1="113.3" x2="182" y2="113.3" stroke="#666" stroke-width="0.5" />
<text x="181.3" y="114.5" font-size="3.4" text-anchor="end" fill="#222" font-weight="bold"  stroke="#222" stroke-width="0.050">2.00</text>
<line x1="183.2" y1="104.7" x2="182" y2="104.7" stroke="#666" stroke-width="0.5" />
<text x="181.3" y="105.9" font-size="3.4" text-anchor="end" fill="#222" font-weight="bold"  stroke="#222" stroke-width="0.050">2.25</text>
<line x1="183.2" y1="96.1" x2="182" y2="96.1" stroke="#666" stroke-width="0.5" />
<text x="181.3" y="97.3" font-size="3.4" text-anchor="end" fill="#222" font-weight="bold"  stroke="#222" stroke-width="0.050">2.50</text>
<text x="227.3" y="180.1" font-size="4.8" text-anchor="middle" fill="#222" font-weight="bold"  stroke="#222" stroke-width="0.050">Temperature (K)</text>
<text x="173.6" y="132.5" font-size="4.8" text-anchor="middle" fill="#222" font-weight="bold" transform="rotate(-90 173.6 132.5)"  stroke="#222" stroke-width="0.050">FIR</text>
<rect x="184" y="96.5" width="33.3" height="18.9" fill="none" stroke="#ddd" stroke-width="0.5" />
<circle cx="190.7" cy="100" r="1.5" fill="#000" stroke="none" stroke-width="0" />
<circle cx="190.7" cy="106.3" r="1.5" fill="#f00" stroke="none" stroke-width="0" />
<circle cx="190.7" cy="112.7" r="1.5" fill="#11f" stroke="none" stroke-width="0" />
<text x="196.9" y="101.7" font-size="4.3" text-anchor="start" fill="#111" font-weight="bold"  stroke="#111" stroke-width="0.050">1st cycle</text>
<text x="196.9" y="108" font-size="4.3" text-anchor="start" fill="#111" font-weight="bold"  stroke="#111" stroke-width="0.050">2nd cycle</text>
<text x="196.9" y="114.4" font-size="4.3" text-anchor="start" fill="#111" font-weight="bold"  stroke="#111" stroke-width="0.050">3rd cycle</text>
<circle cx="190.3" cy="163.4" r="1.25" fill="#000" stroke="none" stroke-width="0" />
<circle cx="190.3" cy="164.1" r="1.25" fill="#f00" stroke="none" stroke-width="0" />
<circle cx="190.3" cy="166.3" r="1.25" fill="#11f" stroke="none" stroke-width="0" />
<circle cx="196.48" cy="159.7" r="1.25" fill="#000" stroke="none" stroke-width="0" />
<circle cx="196.48" cy="160.1" r="1.25" fill="#f00" stroke="none" stroke-width="0" />
<circle cx="196.48" cy="161.9" r="1.25" fill="#11f" stroke="none" stroke-width="0" />
<circle cx="209.9" cy="149.5" r="1.25" fill="#000" stroke="none" stroke-width="0" />
<circle cx="209.9" cy="149.5" r="1.25" fill="#f00" stroke="none" stroke-width="0" />
<circle cx="209.9" cy="151.3" r="1.25" fill="#11f" stroke="none" stroke-width="0" />
<circle cx="223.33" cy="139.6" r="1.25" fill="#000" stroke="none" stroke-width="0" />
<circle cx="223.33" cy="140.5" r="1.25" fill="#f00" stroke="none" stroke-width="0" />
<circle cx="223.33" cy="141.5" r="1.25" fill="#11f" stroke="none" stroke-width="0" />
<circle cx="236.75" cy="128.1" r="1.25" fill="#000" stroke="none" stroke-width="0" />
<circle cx="236.75" cy="129.2" r="1.25" fill="#f00" stroke="none" stroke-width="0" />
<circle cx="236.75" cy="127.2" r="1.25" fill="#11f" stroke="none" stroke-width="0" />
<circle cx="250.18" cy="115.9" r="1.25" fill="#000" stroke="none" stroke-width="0" />
<circle cx="250.18" cy="116.5" r="1.25" fill="#f00" stroke="none" stroke-width="0" />
<circle cx="250.18" cy="117.3" r="1.25" fill="#11f" stroke="none" stroke-width="0" />
<circle cx="263.6" cy="106.6" r="1.25" fill="#000" stroke="none" stroke-width="0" />
<circle cx="263.6" cy="97.1" r="1.25" fill="#f00" stroke="none" stroke-width="0" />
<circle cx="263.6" cy="101.6" r="1.25" fill="#11f" stroke="none" stroke-width="0" />
<line x1="322.5" y1="10.1" x2="558" y2="10.1" stroke="#858585" stroke-width="1.6" />
<line x1="558" y1="10.1" x2="558" y2="185.4" stroke="#808080" stroke-width="1.5" />
<line x1="322.5" y1="185.4" x2="558" y2="185.4" stroke="#3a3a3a" stroke-width="1.2" />
<line x1="322.5" y1="10.1" x2="322.5" y2="185.4" stroke="#3a3a3a" stroke-width="1.2" />
<line x1="322.5" y1="185.4" x2="322.5" y2="189" stroke="#3a3a3a" stroke-width="1.2" />
<line x1="346.05" y1="185.4" x2="346.05" y2="189" stroke="#3a3a3a" stroke-width="1.2" />
<line x1="369.6" y1="185.4" x2="369.6" y2="189" stroke="#3a3a3a" stroke-width="1.2" />
<line x1="393.15" y1="185.4" x2="393.15" y2="189" stroke="#3a3a3a" stroke-width="1.2" />
<line x1="416.7" y1="185.4" x2="416.7" y2="189" stroke="#3a3a3a" stroke-width="1.2" />
<line x1="440.25" y1="185.4" x2="440.25" y2="189" stroke="#3a3a3a" stroke-width="1.2" />
<line x1="463.8" y1="185.4" x2="463.8" y2="189" stroke="#3a3a3a" stroke-width="1.2" />
<line x1="487.35" y1="185.4" x2="487.35" y2="189" stroke="#3a3a3a" stroke-width="1.2" />
<line x1="510.9" y1="185.4" x2="510.9" y2="189" stroke="#3a3a3a" stroke-width="1.2" />
<line x1="534.45" y1="185.4" x2="534.45" y2="189" stroke="#3a3a3a" stroke-width="1.2" />
<line x1="558" y1="185.4" x2="558" y2="189" stroke="#3a3a3a" stroke-width="1.2" />
<line x1="334.27" y1="185.4" x2="334.27" y2="187.4" stroke="#3a3a3a" stroke-width="1.2" />
<line x1="357.82" y1="185.4" x2="357.82" y2="187.4" stroke="#3a3a3a" stroke-width="1.2" />
<line x1="381.38" y1="185.4" x2="381.38" y2="187.4" stroke="#3a3a3a" stroke-width="1.2" />
<line x1="404.93" y1="185.4" x2="404.93" y2="187.4" stroke="#3a3a3a" stroke-width="1.2" />
<line x1="428.48" y1="185.4" x2="428.48" y2="187.4" stroke="#3a3a3a" stroke-width="1.2" />
<line x1="452.02" y1="185.4" x2="452.02" y2="187.4" stroke="#3a3a3a" stroke-width="1.2" />
<line x1="475.57" y1="185.4" x2="475.57" y2="187.4" stroke="#3a3a3a" stroke-width="1.2" />
<line x1="499.12" y1="185.4" x2="499.12" y2="187.4" stroke="#3a3a3a" stroke-width="1.2" />
<line x1="522.67" y1="185.4" x2="522.67" y2="187.4" stroke="#3a3a3a" stroke-width="1.2" />
<line x1="546.23" y1="185.4" x2="546.23" y2="187.4" stroke="#3a3a3a" stroke-width="1.2" />
<line x1="322.5" y1="185.4" x2="319.1" y2="185.4" stroke="#3a3a3a" stroke-width="1.2" />
<line x1="322.5" y1="158.4" x2="319.1" y2="158.4" stroke="#3a3a3a" stroke-width="1.2" />
<line x1="322.5" y1="131.4" x2="319.1" y2="131.4" stroke="#3a3a3a" stroke-width="1.2" />
<line x1="322.5" y1="104.4" x2="319.1" y2="104.4" stroke="#3a3a3a" stroke-width="1.2" />
<line x1="322.5" y1="77.4" x2="319.1" y2="77.4" stroke="#3a3a3a" stroke-width="1.2" />
<line x1="322.5" y1="50.4" x2="319.1" y2="50.4" stroke="#3a3a3a" stroke-width="1.2" />
<line x1="322.5" y1="23.4" x2="319.1" y2="23.4" stroke="#3a3a3a" stroke-width="1.2" />
<line x1="322.5" y1="171.9" x2="320.5" y2="171.9" stroke="#3a3a3a" stroke-width="1.2" />
<line x1="322.5" y1="144.9" x2="320.5" y2="144.9" stroke="#3a3a3a" stroke-width="1.2" />
<line x1="322.5" y1="117.9" x2="320.5" y2="117.9" stroke="#3a3a3a" stroke-width="1.2" />
<line x1="322.5" y1="90.9" x2="320.5" y2="90.9" stroke="#3a3a3a" stroke-width="1.2" />
<line x1="322.5" y1="63.9" x2="320.5" y2="63.9" stroke="#3a3a3a" stroke-width="1.2" />
<line x1="322.5" y1="36.9" x2="320.5" y2="36.9" stroke="#3a3a3a" stroke-width="1.2" />
<line x1="558" y1="185.4" x2="561.4" y2="185.4" stroke="#3a3a3a" stroke-width="1.2" />
<line x1="558" y1="164.75" x2="561.4" y2="164.75" stroke="#3a3a3a" stroke-width="1.2" />
<line x1="558" y1="144.1" x2="561.4" y2="144.1" stroke="#3a3a3a" stroke-width="1.2" />
<line x1="558" y1="123.45" x2="561.4" y2="123.45" stroke="#3a3a3a" stroke-width="1.2" />
<line x1="558" y1="102.8" x2="561.4" y2="102.8" stroke="#3a3a3a" stroke-width="1.2" />
<line x1="558" y1="82.15" x2="561.4" y2="82.15" stroke="#3a3a3a" stroke-width="1.2" />
<line x1="558" y1="61.5" x2="561.4" y2="61.5" stroke="#3a3a3a" stroke-width="1.2" />
<line x1="558" y1="40.85" x2="561.4" y2="40.85" stroke="#3a3a3a" stroke-width="1.2" />
<line x1="558" y1="20.2" x2="561.4" y2="20.2" stroke="#3a3a3a" stroke-width="1.2" />
<line x1="558" y1="175.08" x2="560" y2="175.08" stroke="#3a3a3a" stroke-width="1.2" />
<line x1="558" y1="154.43" x2="560" y2="154.43" stroke="#3a3a3a" stroke-width="1.2" />
<line x1="558" y1="133.78" x2="560" y2="133.78" stroke="#3a3a3a" stroke-width="1.2" />
<line x1="558" y1="113.12" x2="560" y2="113.12" stroke="#3a3a3a" stroke-width="1.2" />
<line x1="558" y1="92.47" x2="560" y2="92.47" stroke="#3a3a3a" stroke-width="1.2" />
<line x1="558" y1="71.82" x2="560" y2="71.82" stroke="#3a3a3a" stroke-width="1.2" />
<line x1="558" y1="51.17" x2="560" y2="51.17" stroke="#3a3a3a" stroke-width="1.2" />
<line x1="558" y1="30.53" x2="560" y2="30.53" stroke="#3a3a3a" stroke-width="1.2" />
<text x="322.5" y="196.95" font-size="7.4" text-anchor="middle" fill="#000" font-weight="bold"  stroke="#000" stroke-width="0.180">0</text>
<text x="346.05" y="196.95" font-size="7.4" text-anchor="middle" fill="#000" font-weight="bold"  stroke="#000" stroke-width="0.180">100</text>
<text x="369.6" y="196.95" font-size="7.4" text-anchor="middle" fill="#000" font-weight="bold"  stroke="#000" stroke-width="0.180">200</text>
<text x="393.15" y="196.95" font-size="7.4" text-anchor="middle" fill="#000" font-weight="bold"  stroke="#000" stroke-width="0.180">300</text>
<text x="416.7" y="196.95" font-size="7.4" text-anchor="middle" fill="#000" font-weight="bold"  stroke="#000" stroke-width="0.180">400</text>
<text x="440.25" y="196.95" font-size="7.4" text-anchor="middle" fill="#000" font-weight="bold"  stroke="#000" stroke-width="0.180">500</text>
<text x="463.8" y="196.95" font-size="7.4" text-anchor="middle" fill="#000" font-weight="bold"  stroke="#000" stroke-width="0.180">600</text>
<text x="487.35" y="196.95" font-size="7.4" text-anchor="middle" fill="#000" font-weight="bold"  stroke="#000" stroke-width="0.180">700</text>
<text x="510.9" y="196.95" font-size="7.4" text-anchor="middle" fill="#000" font-weight="bold"  stroke="#000" stroke-width="0.180">800</text>
<text x="534.45" y="196.95" font-size="7.4" text-anchor="middle" fill="#000" font-weight="bold"  stroke="#000" stroke-width="0.180">900</text>
<text x="558" y="196.95" font-size="7.4" text-anchor="middle" fill="#000" font-weight="bold"  stroke="#000" stroke-width="0.180">1000</text>
<text x="317" y="187.65" font-size="7.4" text-anchor="end" fill="#000" font-weight="bold"  stroke="#000" stroke-width="0.180">0.000</text>
<text x="317" y="160.65" font-size="7.4" text-anchor="end" fill="#000" font-weight="bold"  stroke="#000" stroke-width="0.180">0.002</text>
<text x="317" y="133.65" font-size="7.4" text-anchor="end" fill="#000" font-weight="bold"  stroke="#000" stroke-width="0.180">0.004</text>
<text x="317" y="106.65" font-size="7.4" text-anchor="end" fill="#000" font-weight="bold"  stroke="#000" stroke-width="0.180">0.006</text>
<text x="317" y="79.65" font-size="7.4" text-anchor="end" fill="#000" font-weight="bold"  stroke="#000" stroke-width="0.180">0.008</text>
<text x="317" y="52.65" font-size="7.4" text-anchor="end" fill="#000" font-weight="bold"  stroke="#000" stroke-width="0.180">0.010</text>
<text x="317" y="25.65" font-size="7.4" text-anchor="end" fill="#000" font-weight="bold"  stroke="#000" stroke-width="0.180">0.012</text>
<text x="563.6" y="187.65" font-size="7.4" text-anchor="start" fill="#000" font-weight="bold"  stroke="#000" stroke-width="0.180">0.000</text>
<text x="563.6" y="167" font-size="7.4" text-anchor="start" fill="#000" font-weight="bold"  stroke="#000" stroke-width="0.180">0.001</text>
<text x="563.6" y="146.35" font-size="7.4" text-anchor="start" fill="#000" font-weight="bold"  stroke="#000" stroke-width="0.180">0.002</text>
<text x="563.6" y="125.7" font-size="7.4" text-anchor="start" fill="#000" font-weight="bold"  stroke="#000" stroke-width="0.180">0.003</text>
<text x="563.6" y="105.05" font-size="7.4" text-anchor="start" fill="#000" font-weight="bold"  stroke="#000" stroke-width="0.180">0.004</text>
<text x="563.6" y="84.4" font-size="7.4" text-anchor="start" fill="#000" font-weight="bold"  stroke="#000" stroke-width="0.180">0.005</text>
<text x="563.6" y="63.75" font-size="7.4" text-anchor="start" fill="#000" font-weight="bold"  stroke="#000" stroke-width="0.180">0.006</text>
<text x="563.6" y="43.1" font-size="7.4" text-anchor="start" fill="#000" font-weight="bold"  stroke="#000" stroke-width="0.180">0.007</text>
<text x="563.6" y="22.45" font-size="7.4" text-anchor="start" fill="#000" font-weight="bold"  stroke="#000" stroke-width="0.180">0.008</text>
<text x="440.7" y="213" font-size="9.6" text-anchor="middle" fill="#000" font-weight="bold"  stroke="#000" stroke-width="0.180">Temperature (K)</text>
<text x="288.6" y="104.4" font-size="9.8" text-anchor="middle" fill="#000" font-weight="bold" transform="rotate(-90 288.6 104.4)"  stroke="#000" stroke-width="0.180">Relative Sensitivity (S<tspan font-size="6.5" dy="2.5">r</tspan><tspan dy="-2.5">)</tspan></text>
<text x="595.5" y="104.5" font-size="9.7" text-anchor="middle" fill="#000" font-weight="bold" transform="rotate(-90 595.5 104.5)"  stroke="#000" stroke-width="0.180">Absolute Sensitivity (S<tspan font-size="6.5" dy="2.5">a</tspan><tspan dy="-2.5">)</tspan></text>
<text x="324.35" y="134.95" font-size="16" text-anchor="start" fill="#000" font-weight="bold"  stroke="#000" stroke-width="0.180">(b)</text>
<clipPath id="cb"><rect x="322.5" y="10.1" width="235.5" height="175.3"/></clipPath>
<g clip-path="url(#cb)">
<polyline points="322.62,185.4 323.21,185.4 323.79,185.4 324.38,185.4 324.97,185.4 325.56,185.4 326.15,185.4 326.74,185.4 327.33,185.4 327.91,185.4 328.5,185.4 329.09,185.4 329.68,185.4 330.27,185.4 330.86,185.4 331.44,185.4 332.03,185.4 332.62,185.4 333.21,185.4 333.8,185.4 334.39,185.4 334.98,185.4 335.56,185.4 336.15,185.4 336.74,185.4 337.33,185.4 337.92,185.39 338.51,185.39 339.09,185.38 339.68,185.37 340.27,185.36 340.86,185.34 341.45,185.31 342.04,185.27 342.63,185.22 343.21,185.16 343.8,185.09 344.39,184.99 344.98,184.88 345.57,184.74 346.16,184.57 346.74,184.38 347.33,184.15 347.92,183.89 348.51,183.6 349.1,183.26 349.69,182.89 350.28,182.47 350.86,182 351.45,181.49 352.04,180.93 352.63,180.32 353.22,179.66 353.81,178.95 354.39,178.18 354.98,177.36 355.57,176.5 356.16,175.57 356.75,174.6 357.34,173.57 357.93,172.5 358.51,171.37 359.1,170.19 359.69,168.96 360.28,167.69 360.87,166.37 361.46,165.01 362.04,163.6 362.63,162.16 363.22,160.67 363.81,159.14 364.4,157.58 364.99,155.99 365.58,154.36 366.16,152.7 366.75,151.01 367.34,149.3 367.93,147.56 368.52,145.8 369.11,144.02 369.69,142.21 370.28,140.4 370.87,138.56 371.46,136.71 372.05,134.85 372.64,132.98 373.22,131.1 373.81,129.22 374.4,127.32 374.99,125.43 375.58,123.53 376.17,121.63 376.76,119.73 377.34,117.84 377.93,115.94 378.52,114.05 379.11,112.17 379.7,110.29 380.29,108.42 380.87,106.56 381.46,104.71 382.05,102.87 382.64,101.04 383.23,99.22 383.82,97.42 384.41,95.63 384.99,93.86 385.58,92.1 386.17,90.35 386.76,88.63 387.35,86.92 387.94,85.23 388.52,83.55 389.11,81.9 389.7,80.26 390.29,78.65 390.88,77.05 391.47,75.47 392.06,73.92 392.64,72.38 393.23,70.87 393.82,69.38 394.41,67.9 395,66.45 395.59,65.03 396.17,63.62 396.76,62.23 397.35,60.87 397.94,59.53 398.53,58.21 399.12,56.91 399.71,55.64 400.29,54.38 400.88,53.15 401.47,51.94 402.06,50.76 402.65,49.59 403.24,48.45 403.82,47.33 404.41,46.23 405,45.15 405.59,44.09 406.18,43.05 406.77,42.04 407.36,41.04 407.94,40.07 408.53,39.12 409.12,38.19 409.71,37.27 410.3,36.38 410.89,35.51 411.47,34.66 412.06,33.83 412.65,33.01 413.24,32.22 413.83,31.45 414.42,30.69 415.01,29.95 415.59,29.23 416.18,28.53 416.77,27.85 417.36,27.19 417.95,26.54 418.54,25.91 419.12,25.3 419.71,24.7 420.3,24.12 420.89,23.56 421.48,23.02 422.07,22.49 422.66,21.97 423.24,21.48 423.83,20.99 424.42,20.52 425.01,20.07 425.6,19.63 426.19,19.21 426.77,18.8 427.36,18.41 427.95,18.03 428.54,17.66 429.13,17.31 429.72,16.97 430.31,16.64 430.89,16.33 431.48,16.03 432.07,15.74 432.66,15.46 433.25,15.2 433.84,14.95 434.42,14.7 435.01,14.48 435.6,14.26 436.19,14.05 436.78,13.86 437.37,13.67 437.96,13.5 438.54,13.34 439.13,13.18 439.72,13.04 440.31,12.91 440.9,12.79 441.49,12.67 442.07,12.57 442.66,12.47 443.25,12.39 443.84,12.31 444.43,12.24 445.02,12.19 445.6,12.14 446.19,12.09 446.78,12.06 447.37,12.03 447.96,12.02 448.55,12 449.14,12 449.72,12.01 450.31,12.02 450.9,12.04 451.49,12.07 452.08,12.1 452.67,12.14 453.25,12.19 453.84,12.24 454.43,12.3 455.02,12.37 455.61,12.44 456.2,12.52 456.79,12.6 457.37,12.69 457.96,12.79 458.55,12.89 459.14,13 459.73,13.11 460.32,13.23 460.9,13.35 461.49,13.48 462.08,13.61 462.67,13.75 463.26,13.89 463.85,14.04 464.44,14.19 465.02,14.34 465.61,14.5 466.2,14.67 466.79,14.84 467.38,15.01 467.97,15.19 468.55,15.37 469.14,15.55 469.73,15.74 470.32,15.94 470.91,16.13 471.5,16.33 472.09,16.53 472.67,16.74 473.26,16.95 473.85,17.16 474.44,17.38 475.03,17.6 475.62,17.82 476.2,18.04 476.79,18.27 477.38,18.5 477.97,18.74 478.56,18.97 479.15,19.21 479.74,19.45 480.32,19.7 480.91,19.94 481.5,20.19 482.09,20.44 482.68,20.69 483.27,20.95 483.85,21.21 484.44,21.47 485.03,21.73 485.62,21.99 486.21,22.26 486.8,22.52 487.39,22.79 487.97,23.06 488.56,23.34 489.15,23.61 489.74,23.89 490.33,24.16 490.92,24.44 491.5,24.72 492.09,25 492.68,25.29 493.27,25.57 493.86,25.86 494.45,26.15 495.04,26.43 495.62,26.72 496.21,27.01 496.8,27.31 497.39,27.6 497.98,27.89 498.57,28.19 499.15,28.48 499.74,28.78 500.33,29.08 500.92,29.38 501.51,29.68 502.1,29.98 502.69,30.28 503.27,30.58 503.86,30.88 504.45,31.19 505.04,31.49 505.63,31.8 506.22,32.1 506.8,32.41 507.39,32.71 507.98,33.02 508.57,33.33 509.16,33.64 509.75,33.94 510.34,34.25 510.92,34.56 511.51,34.87 512.1,35.18 512.69,35.49 513.28,35.8 513.87,36.11 514.45,36.43 515.04,36.74 515.63,37.05 516.22,37.36 516.81,37.67 517.4,37.98 517.99,38.3 518.57,38.61 519.16,38.92 519.75,39.23 520.34,39.55 520.93,39.86 521.52,40.17 522.1,40.48 522.69,40.8 523.28,41.11 523.87,41.42 524.46,41.74 525.05,42.05 525.63,42.36 526.22,42.67 526.81,42.99 527.4,43.3 527.99,43.61 528.58,43.92 529.17,44.23 529.75,44.54 530.34,44.86 530.93,45.17 531.52,45.48 532.11,45.79 532.7,46.1 533.28,46.41 533.87,46.72 534.46,47.03 535.05,47.34 535.64,47.65 536.23,47.96 536.82,48.27 537.4,48.57 537.99,48.88 538.58,49.19 539.17,49.5 539.76,49.8 540.35,50.11 540.93,50.42 541.52,50.72 542.11,51.03 542.7,51.33 543.29,51.64 543.88,51.94 544.47,52.24 545.05,52.55 545.64,52.85 546.23,53.15 546.82,53.46 547.41,53.76 548,54.06 548.58,54.36 549.17,54.66 549.76,54.96 550.35,55.26 550.94,55.56 551.53,55.85 552.12,56.15 552.7,56.45 553.29,56.75 553.88,57.04 554.47,57.34 555.06,57.63 555.65,57.93 556.23,58.22 556.82,58.51 557.41,58.81 558,59.1" fill="none" stroke="#1c1cf0" stroke-width="1.3" stroke-linejoin="round" />
<polyline points="322.62,7.1 323.21,7.1 323.79,7.1 324.38,7.1 324.97,7.1 325.56,7.1 326.15,7.1 326.74,7.1 327.33,7.1 327.91,7.1 328.5,7.1 329.09,7.1 329.68,7.1 330.27,7.1 330.86,7.1 331.44,7.1 332.03,7.1 332.62,7.1 333.21,7.1 333.8,7.1 334.39,7.1 334.98,7.1 335.56,7.1 336.15,7.1 336.74,7.1 337.33,7.1 337.92,7.1 338.51,7.1 339.09,7.1 339.68,7.1 340.27,7.1 340.86,7.1 341.45,7.1 342.04,7.1 342.63,7.1 343.21,7.1 343.8,7.1 344.39,7.1 344.98,7.1 345.57,7.1 346.16,7.1 346.74,7.1 347.33,7.1 347.92,7.1 348.51,7.1 349.1,7.1 349.69,7.1 350.28,7.1 350.86,7.1 351.45,7.1 352.04,7.1 352.63,7.1 353.22,7.1 353.81,7.1 354.39,7.1 354.98,7.1 355.57,7.1 356.16,7.1 356.75,7.1 357.34,7.1 357.93,7.1 358.51,7.1 359.1,7.1 359.69,7.1 360.28,7.1 360.87,7.1 361.46,7.1 362.04,7.1 362.63,7.1 363.22,7.1 363.81,7.1 364.4,7.1 364.99,7.1 365.58,7.1 366.16,7.1 366.75,7.1 367.34,7.1 367.93,7.1 368.52,7.1 369.11,7.1 369.69,7.1 370.28,7.1 370.87,7.1 371.46,7.1 372.05,7.1 372.64,7.1 373.22,7.1 373.81,7.1 374.4,7.1 374.99,7.1 375.58,7.1 376.17,7.1 376.76,7.1 377.34,7.1 377.93,7.1 378.52,7.1 379.11,7.1 379.7,7.1 380.29,7.1 380.87,7.1 381.46,7.1 382.05,7.1 382.64,7.1 383.23,7.1 383.82,7.1 384.41,7.1 384.99,7.1 385.58,7.1 386.17,7.1 386.76,7.1 387.35,7.1 387.94,7.1 388.52,7.1 389.11,7.1 389.7,7.23 390.29,10.31 390.88,13.31 391.47,16.23 392.06,19.08 392.64,21.86 393.23,24.57 393.82,27.21 394.41,29.79 395,32.31 395.59,34.76 396.17,37.16 396.76,39.5 397.35,41.79 397.94,44.02 398.53,46.2 399.12,48.33 399.71,50.41 400.29,52.44 400.88,54.43 401.47,56.38 402.06,58.28 402.65,60.14 403.24,61.96 403.82,63.74 404.41,65.48 405,67.18 405.59,68.85 406.18,70.49 406.77,72.09 407.36,73.65 407.94,75.19 408.53,76.69 409.12,78.16 409.71,79.6 410.3,81.02 410.89,82.4 411.47,83.76 412.06,85.09 412.65,86.4 413.24,87.68 413.83,88.93 414.42,90.16 415.01,91.37 415.59,92.56 416.18,93.72 416.77,94.86 417.36,95.98 417.95,97.08 418.54,98.16 419.12,99.22 419.71,100.26 420.3,101.28 420.89,102.28 421.48,103.27 422.07,104.23 422.66,105.19 423.24,106.12 423.83,107.04 424.42,107.94 425.01,108.83 425.6,109.7 426.19,110.56 426.77,111.4 427.36,112.23 427.95,113.04 428.54,113.84 429.13,114.63 429.72,115.4 430.31,116.17 430.89,116.92 431.48,117.65 432.07,118.38 432.66,119.09 433.25,119.8 433.84,120.49 434.42,121.17 435.01,121.84 435.6,122.5 436.19,123.15 436.78,123.79 437.37,124.42 437.96,125.04 438.54,125.65 439.13,126.25 439.72,126.84 440.31,127.42 440.9,128 441.49,128.57 442.07,129.12 442.66,129.67 443.25,130.22 443.84,130.75 444.43,131.28 445.02,131.79 445.6,132.31 446.19,132.81 446.78,133.31 447.37,133.8 447.96,134.28 448.55,134.76 449.14,135.23 449.72,135.69 450.31,136.14 450.9,136.6 451.49,137.04 452.08,137.48 452.67,137.91 453.25,138.34 453.84,138.76 454.43,139.17 455.02,139.58 455.61,139.99 456.2,140.39 456.79,140.78 457.37,141.17 457.96,141.55 458.55,141.93 459.14,142.3 459.73,142.67 460.32,143.04 460.9,143.4 461.49,143.75 462.08,144.1 462.67,144.45 463.26,144.79 463.85,145.13 464.44,145.46 465.02,145.79 465.61,146.11 466.2,146.43 466.79,146.75 467.38,147.07 467.97,147.37 468.55,147.68 469.14,147.98 469.73,148.28 470.32,148.58 470.91,148.87 471.5,149.16 472.09,149.44 472.67,149.72 473.26,150 473.85,150.27 474.44,150.55 475.03,150.81 475.62,151.08 476.2,151.34 476.79,151.6 477.38,151.86 477.97,152.11 478.56,152.36 479.15,152.61 479.74,152.85 480.32,153.1 480.91,153.34 481.5,153.57 482.09,153.81 482.68,154.04 483.27,154.27 483.85,154.49 484.44,154.72 485.03,154.94 485.62,155.16 486.21,155.38 486.8,155.59 487.39,155.8 487.97,156.01 488.56,156.22 489.15,156.43 489.74,156.63 490.33,156.83 490.92,157.03 491.5,157.23 492.09,157.42 492.68,157.62 493.27,157.81 493.86,158 494.45,158.18 495.04,158.37 495.62,158.55 496.21,158.74 496.8,158.91 497.39,159.09 497.98,159.27 498.57,159.44 499.15,159.62 499.74,159.79 500.33,159.96 500.92,160.12 501.51,160.29 502.1,160.45 502.69,160.62 503.27,160.78 503.86,160.94 504.45,161.1 505.04,161.25 505.63,161.41 506.22,161.56 506.8,161.71 507.39,161.86 507.98,162.01 508.57,162.16 509.16,162.31 509.75,162.45 510.34,162.59 510.92,162.74 511.51,162.88 512.1,163.02 512.69,163.16 513.28,163.29 513.87,163.43 514.45,163.56 515.04,163.7 515.63,163.83 516.22,163.96 516.81,164.09 517.4,164.22 517.99,164.34 518.57,164.47 519.16,164.6 519.75,164.72 520.34,164.84 520.93,164.96 521.52,165.08 522.1,165.2 522.69,165.32 523.28,165.44 523.87,165.56 524.46,165.67 525.05,165.79 525.63,165.9 526.22,166.01 526.81,166.12 527.4,166.23 527.99,166.34 528.58,166.45 529.17,166.56 529.75,166.67 530.34,166.77 530.93,166.88 531.52,166.98 532.11,167.09 532.7,167.19 533.28,167.29 533.87,167.39 534.46,167.49 535.05,167.59 535.64,167.69 536.23,167.79 536.82,167.88 537.4,167.98 537.99,168.07 538.58,168.17 539.17,168.26 539.76,168.35 540.35,168.44 540.93,168.54 541.52,168.63 542.11,168.72 542.7,168.81 543.29,168.89 543.88,168.98 544.47,169.07 545.05,169.15 545.64,169.24 546.23,169.33 546.82,169.41 547.41,169.49 548,169.58 548.58,169.66 549.17,169.74 549.76,169.82 550.35,169.9 550.94,169.98 551.53,170.06 552.12,170.14 552.7,170.22 553.29,170.29 553.88,170.37 554.47,170.45 555.06,170.52 555.65,170.6 556.23,170.67 556.82,170.75 557.41,170.82 558,170.89" fill="none" stroke="#1c1cf0" stroke-width="1.3" stroke-linejoin="round" />
<polyline points="322.62,185.4 323.21,185.4 323.79,185.4 324.38,185.4 324.97,185.4 325.56,185.4 326.15,185.4 326.74,185.4 327.33,185.4 327.91,185.4 328.5,185.4 329.09,185.4 329.68,185.4 330.27,185.4 330.86,185.4 331.44,185.4 332.03,185.4 332.62,185.4 333.21,185.4 333.8,185.4 334.39,185.4 334.98,185.4 335.56,185.4 336.15,185.4 336.74,185.4 337.33,185.39 337.92,185.39 338.51,185.38 339.09,185.37 339.68,185.36 340.27,185.33 340.86,185.3 341.45,185.27 342.04,185.21 342.63,185.15 343.21,185.07 343.8,184.97 344.39,184.84 344.98,184.7 345.57,184.52 346.16,184.32 346.74,184.08 347.33,183.81 347.92,183.5 348.51,183.15 349.1,182.75 349.69,182.32 350.28,181.84 350.86,181.31 351.45,180.73 352.04,180.11 352.63,179.44 353.22,178.71 353.81,177.94 354.39,177.12 354.98,176.24 355.57,175.32 356.16,174.35 356.75,173.33 357.34,172.26 357.93,171.14 358.51,169.98 359.1,168.78 359.69,167.54 360.28,166.25 360.87,164.92 361.46,163.56 362.04,162.16 362.63,160.73 363.22,159.27 363.81,157.77 364.4,156.25 364.99,154.7 365.58,153.13 366.16,151.54 366.75,149.92 367.34,148.29 367.93,146.64 368.52,144.97 369.11,143.29 369.69,141.6 370.28,139.9 370.87,138.19 371.46,136.48 372.05,134.76 372.64,133.03 373.22,131.31 373.81,129.58 374.4,127.86 374.99,126.13 375.58,124.41 376.17,122.7 376.76,120.99 377.34,119.29 377.93,117.6 378.52,115.91 379.11,114.24 379.7,112.57 380.29,110.92 380.87,109.28 381.46,107.66 382.05,106.05 382.64,104.45 383.23,102.87 383.82,101.3 384.41,99.75 384.99,98.22 385.58,96.71 386.17,95.21 386.76,93.73 387.35,92.27 387.94,90.83 388.52,89.41 389.11,88.01 389.7,86.63 390.29,85.27 390.88,83.93 391.47,82.61 392.06,81.31 392.64,80.03 393.23,78.77 393.82,77.54 394.41,76.32 395,75.12 395.59,73.95 396.17,72.8 396.76,71.66 397.35,70.55 397.94,69.46 398.53,68.39 399.12,67.35 399.71,66.32 400.29,65.31 400.88,64.32 401.47,63.36 402.06,62.41 402.65,61.49 403.24,60.58 403.82,59.7 404.41,58.83 405,57.98 405.59,57.16 406.18,56.35 406.77,55.56 407.36,54.79 407.94,54.04 408.53,53.31 409.12,52.59 409.71,51.9 410.3,51.22 410.89,50.56 411.47,49.92 412.06,49.29 412.65,48.68 413.24,48.09 413.83,47.51 414.42,46.95 415.01,46.41 415.59,45.89 416.18,45.37 416.77,44.88 417.36,44.4 417.95,43.93 418.54,43.48 419.12,43.05 419.71,42.63 420.3,42.22 420.89,41.83 421.48,41.45 422.07,41.09 422.66,40.73 423.24,40.4 423.83,40.07 424.42,39.76 425.01,39.46 425.6,39.17 426.19,38.9 426.77,38.63 427.36,38.38 427.95,38.14 428.54,37.91 429.13,37.7 429.72,37.49 430.31,37.29 430.89,37.11 431.48,36.94 432.07,36.77 432.66,36.62 433.25,36.47 433.84,36.34 434.42,36.22 435.01,36.1 435.6,35.99 436.19,35.9 436.78,35.81 437.37,35.73 437.96,35.66 438.54,35.6 439.13,35.54 439.72,35.5 440.31,35.46 440.9,35.43 441.49,35.41 442.07,35.39 442.66,35.39 443.25,35.39 443.84,35.39 444.43,35.41 445.02,35.43 445.6,35.45 446.19,35.49 446.78,35.53 447.37,35.58 447.96,35.63 448.55,35.69 449.14,35.75 449.72,35.82 450.31,35.9 450.9,35.98 451.49,36.07 452.08,36.16 452.67,36.26 453.25,36.36 453.84,36.47 454.43,36.58 455.02,36.7 455.61,36.82 456.2,36.95 456.79,37.08 457.37,37.22 457.96,37.36 458.55,37.5 459.14,37.65 459.73,37.8 460.32,37.96 460.9,38.12 461.49,38.28 462.08,38.45 462.67,38.62 463.26,38.8 463.85,38.98 464.44,39.16 465.02,39.34 465.61,39.53 466.2,39.72 466.79,39.92 467.38,40.11 467.97,40.31 468.55,40.52 469.14,40.72 469.73,40.93 470.32,41.14 470.91,41.36 471.5,41.57 472.09,41.79 472.67,42.01 473.26,42.24 473.85,42.46 474.44,42.69 475.03,42.92 475.62,43.15 476.2,43.39 476.79,43.62 477.38,43.86 477.97,44.1 478.56,44.34 479.15,44.58 479.74,44.83 480.32,45.08 480.91,45.33 481.5,45.58 482.09,45.83 482.68,46.08 483.27,46.33 483.85,46.59 484.44,46.85 485.03,47.11 485.62,47.37 486.21,47.63 486.8,47.89 487.39,48.15 487.97,48.42 488.56,48.68 489.15,48.95 489.74,49.22 490.33,49.48 490.92,49.75 491.5,50.02 492.09,50.3 492.68,50.57 493.27,50.84 493.86,51.11 494.45,51.39 495.04,51.66 495.62,51.94 496.21,52.21 496.8,52.49 497.39,52.77 497.98,53.05 498.57,53.33 499.15,53.6 499.74,53.88 500.33,54.16 500.92,54.44 501.51,54.72 502.1,55.01 502.69,55.29 503.27,55.57 503.86,55.85 504.45,56.13 505.04,56.42 505.63,56.7 506.22,56.98 506.8,57.27 507.39,57.55 507.98,57.83 508.57,58.12 509.16,58.4 509.75,58.68 510.34,58.97 510.92,59.25 511.51,59.54 512.1,59.82 512.69,60.11 513.28,60.39 513.87,60.67 514.45,60.96 515.04,61.24 515.63,61.53 516.22,61.81 516.81,62.09 517.4,62.38 517.99,62.66 518.57,62.94 519.16,63.23 519.75,63.51 520.34,63.79 520.93,64.08 521.52,64.36 522.1,64.64 522.69,64.92 523.28,65.21 523.87,65.49 524.46,65.77 525.05,66.05 525.63,66.33 526.22,66.61 526.81,66.89 527.4,67.17 527.99,67.45 528.58,67.73 529.17,68.01 529.75,68.29 530.34,68.57 530.93,68.84 531.52,69.12 532.11,69.4 532.7,69.68 533.28,69.95 533.87,70.23 534.46,70.5 535.05,70.78 535.64,71.05 536.23,71.33 536.82,71.6 537.4,71.88 537.99,72.15 538.58,72.42 539.17,72.69 539.76,72.96 540.35,73.24 540.93,73.51 541.52,73.78 542.11,74.05 542.7,74.32 543.29,74.58 543.88,74.85 544.47,75.12 545.05,75.39 545.64,75.65 546.23,75.92 546.82,76.18 547.41,76.45 548,76.71 548.58,76.98 549.17,77.24 549.76,77.5 550.35,77.77 550.94,78.03 551.53,78.29 552.12,78.55 552.7,78.81 553.29,79.07 553.88,79.33 554.47,79.59 555.06,79.84 555.65,80.1 556.23,80.36 556.82,80.61 557.41,80.87 558,81.12" fill="none" stroke="#ff1cff" stroke-width="1.3" stroke-linejoin="round" />
<polyline points="322.62,7.1 323.21,7.1 323.79,7.1 324.38,7.1 324.97,7.1 325.56,7.1 326.15,7.1 326.74,7.1 327.33,7.1 327.91,7.1 328.5,7.1 329.09,7.1 329.68,7.1 330.27,7.1 330.86,7.1 331.44,7.1 332.03,7.1 332.62,7.1 333.21,7.1 333.8,7.1 334.39,7.1 334.98,7.1 335.56,7.1 336.15,7.1 336.74,7.1 337.33,7.1 337.92,7.1 338.51,7.1 339.09,7.1 339.68,7.1 340.27,7.1 340.86,7.1 341.45,7.1 342.04,7.1 342.63,7.1 343.21,7.1 343.8,7.1 344.39,7.1 344.98,7.1 345.57,7.1 346.16,7.1 346.74,7.1 347.33,7.1 347.92,7.1 348.51,7.1 349.1,7.1 349.69,7.1 350.28,7.1 350.86,7.1 351.45,7.1 352.04,7.1 352.63,7.1 353.22,7.1 353.81,7.1 354.39,7.1 354.98,7.1 355.57,7.1 356.16,7.1 356.75,7.1 357.34,7.1 357.93,7.1 358.51,7.1 359.1,7.1 359.69,7.1 360.28,7.1 360.87,7.1 361.46,7.1 362.04,7.1 362.63,7.1 363.22,7.1 363.81,7.1 364.4,7.1 364.99,7.1 365.58,7.1 366.16,7.1 366.75,7.1 367.34,7.1 367.93,7.1 368.52,7.1 369.11,7.1 369.69,7.1 370.28,7.1 370.87,7.1 371.46,7.1 372.05,7.1 372.64,7.1 373.22,7.1 373.81,7.1 374.4,7.1 374.99,7.1 375.58,7.1 376.17,7.1 376.76,7.1 377.34,7.1 377.93,7.1 378.52,7.1 379.11,7.1 379.7,7.1 380.29,7.1 380.87,7.1 381.46,7.1 382.05,7.1 382.64,7.1 383.23,7.1 383.82,7.1 384.41,7.1 384.99,7.1 385.58,7.1 386.17,7.1 386.76,7.1 387.35,7.1 387.94,7.1 388.52,9.68 389.11,12.77 389.7,15.78 390.29,18.71 390.88,21.57 391.47,24.35 392.06,27.06 392.64,29.71 393.23,32.29 393.82,34.81 394.41,37.26 395,39.66 395.59,41.99 396.17,44.27 396.76,46.5 397.35,48.68 397.94,50.8 398.53,52.88 399.12,54.91 399.71,56.89 400.29,58.82 400.88,60.72 401.47,62.57 402.06,64.38 402.65,66.15 403.24,67.88 403.82,69.58 404.41,71.23 405,72.86 405.59,74.45 406.18,76 406.77,77.52 407.36,79.01 407.94,80.47 408.53,81.9 409.12,83.31 409.71,84.68 410.3,86.03 410.89,87.34 411.47,88.64 412.06,89.9 412.65,91.15 413.24,92.37 413.83,93.56 414.42,94.73 415.01,95.88 415.59,97.01 416.18,98.12 416.77,99.2 417.36,100.27 417.95,101.32 418.54,102.34 419.12,103.35 419.71,104.34 420.3,105.31 420.89,106.27 421.48,107.21 422.07,108.13 422.66,109.03 423.24,109.92 423.83,110.8 424.42,111.66 425.01,112.5 425.6,113.33 426.19,114.15 426.77,114.95 427.36,115.74 427.95,116.51 428.54,117.28 429.13,118.03 429.72,118.76 430.31,119.49 430.89,120.2 431.48,120.9 432.07,121.59 432.66,122.27 433.25,122.94 433.84,123.6 434.42,124.25 435.01,124.89 435.6,125.52 436.19,126.13 436.78,126.74 437.37,127.34 437.96,127.93 438.54,128.51 439.13,129.09 439.72,129.65 440.31,130.21 440.9,130.75 441.49,131.29 442.07,131.82 442.66,132.35 443.25,132.86 443.84,133.37 444.43,133.87 445.02,134.37 445.6,134.85 446.19,135.33 446.78,135.81 447.37,136.27 447.96,136.73 448.55,137.19 449.14,137.63 449.72,138.07 450.31,138.51 450.9,138.94 451.49,139.36 452.08,139.78 452.67,140.19 453.25,140.6 453.84,141 454.43,141.39 455.02,141.78 455.61,142.17 456.2,142.55 456.79,142.92 457.37,143.29 457.96,143.66 458.55,144.02 459.14,144.37 459.73,144.72 460.32,145.07 460.9,145.41 461.49,145.75 462.08,146.08 462.67,146.41 463.26,146.74 463.85,147.06 464.44,147.38 465.02,147.69 465.61,148 466.2,148.3 466.79,148.61 467.38,148.9 467.97,149.2 468.55,149.49 469.14,149.78 469.73,150.06 470.32,150.34 470.91,150.62 471.5,150.89 472.09,151.17 472.67,151.43 473.26,151.7 473.85,151.96 474.44,152.22 475.03,152.47 475.62,152.73 476.2,152.98 476.79,153.22 477.38,153.47 477.97,153.71 478.56,153.95 479.15,154.18 479.74,154.42 480.32,154.65 480.91,154.87 481.5,155.1 482.09,155.32 482.68,155.54 483.27,155.76 483.85,155.98 484.44,156.19 485.03,156.4 485.62,156.61 486.21,156.82 486.8,157.02 487.39,157.22 487.97,157.42 488.56,157.62 489.15,157.82 489.74,158.01 490.33,158.2 490.92,158.39 491.5,158.58 492.09,158.77 492.68,158.95 493.27,159.13 493.86,159.31 494.45,159.49 495.04,159.67 495.62,159.84 496.21,160.01 496.8,160.19 497.39,160.36 497.98,160.52 498.57,160.69 499.15,160.85 499.74,161.02 500.33,161.18 500.92,161.34 501.51,161.49 502.1,161.65 502.69,161.81 503.27,161.96 503.86,162.11 504.45,162.26 505.04,162.41 505.63,162.56 506.22,162.7 506.8,162.85 507.39,162.99 507.98,163.13 508.57,163.27 509.16,163.41 509.75,163.55 510.34,163.69 510.92,163.82 511.51,163.96 512.1,164.09 512.69,164.22 513.28,164.35 513.87,164.48 514.45,164.61 515.04,164.74 515.63,164.86 516.22,164.99 516.81,165.11 517.4,165.23 517.99,165.35 518.57,165.47 519.16,165.59 519.75,165.71 520.34,165.83 520.93,165.94 521.52,166.06 522.1,166.17 522.69,166.29 523.28,166.4 523.87,166.51 524.46,166.62 525.05,166.73 525.63,166.84 526.22,166.94 526.81,167.05 527.4,167.15 527.99,167.26 528.58,167.36 529.17,167.46 529.75,167.57 530.34,167.67 530.93,167.77 531.52,167.87 532.11,167.96 532.7,168.06 533.28,168.16 533.87,168.25 534.46,168.35 535.05,168.44 535.64,168.54 536.23,168.63 536.82,168.72 537.4,168.81 537.99,168.9 538.58,168.99 539.17,169.08 539.76,169.17 540.35,169.26 540.93,169.35 541.52,169.43 542.11,169.52 542.7,169.6 543.29,169.69 543.88,169.77 544.47,169.85 545.05,169.93 545.64,170.02 546.23,170.1 546.82,170.18 547.41,170.26 548,170.34 548.58,170.41 549.17,170.49 549.76,170.57 550.35,170.64 550.94,170.72 551.53,170.8 552.12,170.87 552.7,170.95 553.29,171.02 553.88,171.09 554.47,171.16 555.06,171.24 555.65,171.31 556.23,171.38 556.82,171.45 557.41,171.52 558,171.59" fill="none" stroke="#ff1cff" stroke-width="1.3" stroke-linejoin="round" />
</g>
<text x="487" y="21" font-size="8.6" text-anchor="start" fill="#1c1cf0" font-weight="bold"  stroke="#1c1cf0" stroke-width="0.180">S<tspan font-size="4.8" dy="2.6">a</tspan><tspan dy="-2.6">=1074.69FIR/T</tspan><tspan font-size="4.8" dy="-4">2</tspan></text>
<text x="419" y="62" font-size="8.6" text-anchor="start" fill="#ff1cff" font-weight="bold"  stroke="#ff1cff" stroke-width="0.180">S<tspan font-size="4.8" dy="2.6">a</tspan><tspan dy="-2.6">=1023.12FIR/T</tspan><tspan font-size="4.8" dy="-4">2</tspan></text>
<text x="441.4" y="123.5" font-size="8.6" text-anchor="start" fill="#ff1cff" font-weight="bold"  stroke="#ff1cff" stroke-width="0.180">S<tspan font-size="4.8" dy="2.6">r</tspan><tspan dy="-2.6">=1023.12/T</tspan><tspan font-size="4.8" dy="-4">2</tspan></text>
<text x="495.9" y="152.8" font-size="8.6" text-anchor="start" fill="#1c1cf0" font-weight="bold"  stroke="#1c1cf0" stroke-width="0.180">S<tspan font-size="4.8" dy="2.6">r</tspan><tspan dy="-2.6">=1074.69/T</tspan><tspan font-size="4.8" dy="-4">2</tspan></text>
<rect x="374.6" y="157.3" width="105.4" height="25.9" fill="none" stroke="#888" stroke-width="0.7" />
<line x1="382.3" y1="164.4" x2="398.6" y2="164.4" stroke="#1c1cf0" stroke-width="1.3" />
<line x1="382.3" y1="176.6" x2="398.6" y2="176.6" stroke="#ff1cff" stroke-width="1.3" />
<text x="400.3" y="166.4" font-size="6.5" text-anchor="start" fill="#000" font-weight="bold"  stroke="#000" stroke-width="0.163">Er<tspan font-size="4.0" dy="-2.8">3+</tspan><tspan dy="2.8">-Yb</tspan><tspan font-size="4.0" dy="-2.8">3+</tspan><tspan dy="2.8">: Bi</tspan><tspan font-size="4.0" dy="2.2">4</tspan><tspan dy="-2.2">Ti</tspan><tspan font-size="4.0" dy="2.2">3</tspan><tspan dy="-2.2">O</tspan><tspan font-size="4.0" dy="2.2">12</tspan></text>
<text x="400.3" y="178.9" font-size="6.5" text-anchor="start" fill="#000" font-weight="bold"  stroke="#000" stroke-width="0.163">Er<tspan font-size="4.0" dy="-2.8">3+</tspan><tspan dy="2.8">-Yb</tspan><tspan font-size="4.0" dy="-2.8">3+</tspan><tspan dy="2.8">-Al</tspan><tspan font-size="4.0" dy="-2.8">3+</tspan><tspan dy="2.8">: Bi</tspan><tspan font-size="4.0" dy="2.2">4</tspan><tspan dy="-2.2">Ti</tspan><tspan font-size="4.0" dy="2.2">3</tspan><tspan dy="-2.2">O</tspan><tspan font-size="4.0" dy="2.2">12</tspan></text>
<line x1="52.9" y1="217.4" x2="270.9" y2="217.4" stroke="#5a5a5a" stroke-width="1.3" />
<line x1="270.9" y1="217.4" x2="270.9" y2="397.2" stroke="#8a8a8a" stroke-width="1.5" />
<line x1="52.9" y1="397.2" x2="270.9" y2="397.2" stroke="#444" stroke-width="1.2" />
<line x1="52.9" y1="217.4" x2="52.9" y2="397.2" stroke="#9a9a9a" stroke-width="1.5" />
<line x1="56.3" y1="397.2" x2="56.3" y2="400.8" stroke="#3a3a3a" stroke-width="1.2" />
<line x1="77.76" y1="397.2" x2="77.76" y2="400.8" stroke="#3a3a3a" stroke-width="1.2" />
<line x1="99.22" y1="397.2" x2="99.22" y2="400.8" stroke="#3a3a3a" stroke-width="1.2" />
<line x1="120.68" y1="397.2" x2="120.68" y2="400.8" stroke="#3a3a3a" stroke-width="1.2" />
<line x1="142.14" y1="397.2" x2="142.14" y2="400.8" stroke="#3a3a3a" stroke-width="1.2" />
<line x1="163.59" y1="397.2" x2="163.59" y2="400.8" stroke="#3a3a3a" stroke-width="1.2" />
<line x1="185.05" y1="397.2" x2="185.05" y2="400.8" stroke="#3a3a3a" stroke-width="1.2" />
<line x1="206.51" y1="397.2" x2="206.51" y2="400.8" stroke="#3a3a3a" stroke-width="1.2" />
<line x1="227.97" y1="397.2" x2="227.97" y2="400.8" stroke="#3a3a3a" stroke-width="1.2" />
<line x1="249.43" y1="397.2" x2="249.43" y2="400.8" stroke="#3a3a3a" stroke-width="1.2" />
<line x1="270.89" y1="397.2" x2="270.89" y2="400.8" stroke="#3a3a3a" stroke-width="1.2" />
<line x1="67.03" y1="397.2" x2="67.03" y2="399.2" stroke="#3a3a3a" stroke-width="1.2" />
<line x1="88.49" y1="397.2" x2="88.49" y2="399.2" stroke="#3a3a3a" stroke-width="1.2" />
<line x1="109.95" y1="397.2" x2="109.95" y2="399.2" stroke="#3a3a3a" stroke-width="1.2" />
<line x1="131.41" y1="397.2" x2="131.41" y2="399.2" stroke="#3a3a3a" stroke-width="1.2" />
<line x1="152.87" y1="397.2" x2="152.87" y2="399.2" stroke="#3a3a3a" stroke-width="1.2" />
<line x1="174.32" y1="397.2" x2="174.32" y2="399.2" stroke="#3a3a3a" stroke-width="1.2" />
<line x1="195.78" y1="397.2" x2="195.78" y2="399.2" stroke="#3a3a3a" stroke-width="1.2" />
<line x1="217.24" y1="397.2" x2="217.24" y2="399.2" stroke="#3a3a3a" stroke-width="1.2" />
<line x1="238.7" y1="397.2" x2="238.7" y2="399.2" stroke="#3a3a3a" stroke-width="1.2" />
<line x1="260.16" y1="397.2" x2="260.16" y2="399.2" stroke="#3a3a3a" stroke-width="1.2" />
<line x1="52.9" y1="397.2" x2="49.5" y2="397.2" stroke="#3a3a3a" stroke-width="1.2" />
<line x1="52.9" y1="379.73" x2="49.5" y2="379.73" stroke="#3a3a3a" stroke-width="1.2" />
<line x1="52.9" y1="362.26" x2="49.5" y2="362.26" stroke="#3a3a3a" stroke-width="1.2" />
<line x1="52.9" y1="344.79" x2="49.5" y2="344.79" stroke="#3a3a3a" stroke-width="1.2" />
<line x1="52.9" y1="327.32" x2="49.5" y2="327.32" stroke="#3a3a3a" stroke-width="1.2" />
<line x1="52.9" y1="309.85" x2="49.5" y2="309.85" stroke="#3a3a3a" stroke-width="1.2" />
<line x1="52.9" y1="292.38" x2="49.5" y2="292.38" stroke="#3a3a3a" stroke-width="1.2" />
<line x1="52.9" y1="274.91" x2="49.5" y2="274.91" stroke="#3a3a3a" stroke-width="1.2" />
<line x1="52.9" y1="257.44" x2="49.5" y2="257.44" stroke="#3a3a3a" stroke-width="1.2" />
<line x1="52.9" y1="239.97" x2="49.5" y2="239.97" stroke="#3a3a3a" stroke-width="1.2" />
<line x1="52.9" y1="222.5" x2="49.5" y2="222.5" stroke="#3a3a3a" stroke-width="1.2" />
<line x1="52.9" y1="388.46" x2="50.9" y2="388.46" stroke="#3a3a3a" stroke-width="1.2" />
<line x1="52.9" y1="371" x2="50.9" y2="371" stroke="#3a3a3a" stroke-width="1.2" />
<line x1="52.9" y1="353.52" x2="50.9" y2="353.52" stroke="#3a3a3a" stroke-width="1.2" />
<line x1="52.9" y1="336.06" x2="50.9" y2="336.06" stroke="#3a3a3a" stroke-width="1.2" />
<line x1="52.9" y1="318.59" x2="50.9" y2="318.59" stroke="#3a3a3a" stroke-width="1.2" />
<line x1="52.9" y1="301.12" x2="50.9" y2="301.12" stroke="#3a3a3a" stroke-width="1.2" />
<line x1="52.9" y1="283.64" x2="50.9" y2="283.64" stroke="#3a3a3a" stroke-width="1.2" />
<line x1="52.9" y1="266.18" x2="50.9" y2="266.18" stroke="#3a3a3a" stroke-width="1.2" />
<line x1="52.9" y1="248.71" x2="50.9" y2="248.71" stroke="#3a3a3a" stroke-width="1.2" />
<line x1="52.9" y1="231.24" x2="50.9" y2="231.24" stroke="#3a3a3a" stroke-width="1.2" />
<text x="56.3" y="409.15" font-size="7.4" text-anchor="middle" fill="#000" font-weight="bold"  stroke="#000" stroke-width="0.180">300</text>
<text x="77.76" y="409.15" font-size="7.4" text-anchor="middle" fill="#000" font-weight="bold"  stroke="#000" stroke-width="0.180">330</text>
<text x="99.22" y="409.15" font-size="7.4" text-anchor="middle" fill="#000" font-weight="bold"  stroke="#000" stroke-width="0.180">360</text>
<text x="120.68" y="409.15" font-size="7.4" text-anchor="middle" fill="#000" font-weight="bold"  stroke="#000" stroke-width="0.180">390</text>
<text x="142.14" y="409.15" font-size="7.4" text-anchor="middle" fill="#000" font-weight="bold"  stroke="#000" stroke-width="0.180">420</text>
<text x="163.59" y="409.15" font-size="7.4" text-anchor="middle" fill="#000" font-weight="bold"  stroke="#000" stroke-width="0.180">450</text>
<text x="185.05" y="409.15" font-size="7.4" text-anchor="middle" fill="#000" font-weight="bold"  stroke="#000" stroke-width="0.180">480</text>
<text x="206.51" y="409.15" font-size="7.4" text-anchor="middle" fill="#000" font-weight="bold"  stroke="#000" stroke-width="0.180">510</text>
<text x="227.97" y="409.15" font-size="7.4" text-anchor="middle" fill="#000" font-weight="bold"  stroke="#000" stroke-width="0.180">540</text>
<text x="249.43" y="409.15" font-size="7.4" text-anchor="middle" fill="#000" font-weight="bold"  stroke="#000" stroke-width="0.180">570</text>
<text x="270.89" y="409.15" font-size="7.4" text-anchor="middle" fill="#000" font-weight="bold"  stroke="#000" stroke-width="0.180">600</text>
<text x="47.8" y="399.45" font-size="7.4" text-anchor="end" fill="#000" font-weight="bold"  stroke="#000" stroke-width="0.180">0.0</text>
<text x="47.8" y="381.98" font-size="7.4" text-anchor="end" fill="#000" font-weight="bold"  stroke="#000" stroke-width="0.180">0.1</text>
<text x="47.8" y="364.51" font-size="7.4" text-anchor="end" fill="#000" font-weight="bold"  stroke="#000" stroke-width="0.180">0.2</text>
<text x="47.8" y="347.04" font-size="7.4" text-anchor="end" fill="#000" font-weight="bold"  stroke="#000" stroke-width="0.180">0.3</text>
<text x="47.8" y="329.57" font-size="7.4" text-anchor="end" fill="#000" font-weight="bold"  stroke="#000" stroke-width="0.180">0.4</text>
<text x="47.8" y="312.1" font-size="7.4" text-anchor="end" fill="#000" font-weight="bold"  stroke="#000" stroke-width="0.180">0.5</text>
<text x="47.8" y="294.63" font-size="7.4" text-anchor="end" fill="#000" font-weight="bold"  stroke="#000" stroke-width="0.180">0.6</text>
<text x="47.8" y="277.16" font-size="7.4" text-anchor="end" fill="#000" font-weight="bold"  stroke="#000" stroke-width="0.180">0.7</text>
<text x="47.8" y="259.69" font-size="7.4" text-anchor="end" fill="#000" font-weight="bold"  stroke="#000" stroke-width="0.180">0.8</text>
<text x="47.8" y="242.22" font-size="7.4" text-anchor="end" fill="#000" font-weight="bold"  stroke="#000" stroke-width="0.180">0.9</text>
<text x="47.8" y="224.75" font-size="7.4" text-anchor="end" fill="#000" font-weight="bold"  stroke="#000" stroke-width="0.180">1.0</text>
<text x="162.3" y="424" font-size="8.8" text-anchor="middle" fill="#000" font-weight="bold"  stroke="#000" stroke-width="0.180">Temperature (K)</text>
<text x="32.7" y="313.5" font-size="10.0" text-anchor="middle" fill="#000" font-weight="bold" transform="rotate(-90 32.7 313.5)"  stroke="#000" stroke-width="0.180">Normalized Intensity</text>
<text x="55.2" y="391.75" font-size="16" text-anchor="start" fill="#000" font-weight="bold"  stroke="#000" stroke-width="0.180">(c)</text>
<line x1="53.5" y1="309.85" x2="166.46" y2="309.85" stroke="#333" stroke-width="1.1" stroke-dasharray="3,2,1,2,1,2.6" stroke-dashoffset="0.6"/>
<line x1="54.4" y1="268.45" x2="144.28" y2="268.45" stroke="#1a8c1a" stroke-width="1.3" stroke-dasharray="1.6,1.9"/>
<line x1="54.4" y1="371" x2="144.28" y2="371" stroke="#1c1cf0" stroke-width="1.3" stroke-dasharray="1.6,1.9"/>
<line x1="144.28" y1="268.45" x2="144.28" y2="397.2" stroke="#ff8c1a" stroke-width="1.2" stroke-dasharray="2.8,2.4"/>
<line x1="109.23" y1="309.85" x2="109.23" y2="397.2" stroke="#1c1cf0" stroke-width="1.1" stroke-dasharray="3,1.8,1,1.8"/>
<line x1="166.46" y1="309.85" x2="166.46" y2="397.2" stroke="#1a8c1a" stroke-width="1.1" stroke-dasharray="3,1.8,1,1.8"/>
<polyline points="52.72,223.28 53.45,223.31 54.18,223.33 54.91,223.36 55.63,223.39 56.36,223.43 57.09,223.46 57.81,223.49 58.54,223.53 59.27,223.56 60,223.6 60.72,223.64 61.45,223.68 62.18,223.72 62.9,223.76 63.63,223.8 64.36,223.85 65.09,223.9 65.81,223.95 66.54,224 67.27,224.05 68,224.1 68.72,224.16 69.45,224.22 70.18,224.28 70.9,224.34 71.63,224.4 72.36,224.47 73.09,224.54 73.81,224.61 74.54,224.68 75.27,224.76 75.99,224.84 76.72,224.92 77.45,225 78.18,225.09 78.9,225.18 79.63,225.27 80.36,225.36 81.09,225.46 81.81,225.57 82.54,225.67 83.27,225.78 83.99,225.89 84.72,226.01 85.45,226.13 86.18,226.26 86.9,226.39 87.63,226.52 88.36,226.66 89.08,226.8 89.81,226.95 90.54,227.1 91.27,227.26 91.99,227.42 92.72,227.59 93.45,227.76 94.18,227.94 94.9,228.13 95.63,228.32 96.36,228.52 97.08,228.72 97.81,228.93 98.54,229.15 99.27,229.38 99.99,229.61 100.72,229.85 101.45,230.09 102.17,230.35 102.9,230.61 103.63,230.88 104.36,231.16 105.08,231.45 105.81,231.75 106.54,232.06 107.27,232.38 107.99,232.7 108.72,233.04 109.45,233.39 110.17,233.75 110.9,234.12 111.63,234.5 112.36,234.89 113.08,235.29 113.81,235.71 114.54,236.14 115.26,236.58 115.99,237.03 116.72,237.5 117.45,237.98 118.17,238.48 118.9,238.99 119.63,239.51 120.36,240.05 121.08,240.6 121.81,241.17 122.54,241.76 123.26,242.36 123.99,242.97 124.72,243.61 125.45,244.26 126.17,244.92 126.9,245.61 127.63,246.31 128.35,247.03 129.08,247.77 129.81,248.53 130.54,249.3 131.26,250.1 131.99,250.91 132.72,251.74 133.45,252.59 134.17,253.46 134.9,254.35 135.63,255.27 136.35,256.2 137.08,257.15 137.81,258.12 138.54,259.11 139.26,260.12 139.99,261.15 140.72,262.2 141.44,263.27 142.17,264.36 142.9,265.47 143.63,266.6 144.35,267.75 145.08,268.92 145.81,270.11 146.54,271.32 147.26,272.54 147.99,273.79 148.72,275.05 149.44,276.33 150.17,277.62 150.9,278.94 151.63,280.27 152.35,281.61 153.08,282.97 153.81,284.34 154.53,285.73 155.26,287.14 155.99,288.55 156.72,289.98 157.44,291.41 158.17,292.86 158.9,294.32 159.63,295.79 160.35,297.26 161.08,298.74 161.81,300.23 162.53,301.73 163.26,303.23 163.99,304.73 164.72,306.24 165.44,307.75 166.17,309.26 166.9,310.77 167.62,312.28 168.35,313.78 169.08,315.29 169.81,316.79 170.53,318.29 171.26,319.78 171.99,321.27 172.72,322.75 173.44,324.23 174.17,325.69 174.9,327.15 175.62,328.59 176.35,330.03 177.08,331.45 177.81,332.86 178.53,334.26 179.26,335.65 179.99,337.02 180.71,338.38 181.44,339.72 182.17,341.04 182.9,342.35 183.62,343.65 184.35,344.92 185.08,346.18 185.81,347.42 186.53,348.64 187.26,349.85 187.99,351.03 188.71,352.19 189.44,353.34 190.17,354.47 190.9,355.57 191.62,356.66 192.35,357.73 193.08,358.77 193.8,359.8 194.53,360.81 195.26,361.79 195.99,362.76 196.71,363.7 197.44,364.63 198.17,365.54 198.9,366.42 199.62,367.29 200.35,368.14 201.08,368.97 201.8,369.77 202.53,370.56 203.26,371.34 203.99,372.09 204.71,372.82 205.44,373.54 206.17,374.24 206.89,374.92 207.62,375.58 208.35,376.23 209.08,376.86 209.8,377.47 210.53,378.07 211.26,378.65 211.99,379.22 212.71,379.77 213.44,380.3 214.17,380.82 214.89,381.33 215.62,381.82 216.35,382.3 217.08,382.76 217.8,383.21 218.53,383.65 219.26,384.08 219.98,384.49 220.71,384.89 221.44,385.28 222.17,385.66 222.89,386.03 223.62,386.39 224.35,386.73 225.08,387.07 225.8,387.39 226.53,387.71 227.26,388.01 227.98,388.31 228.71,388.6 229.44,388.87 230.17,389.14 230.89,389.41 231.62,389.66 232.35,389.9 233.07,390.14 233.8,390.37 234.53,390.6 235.26,390.81 235.98,391.02 236.71,391.23 237.44,391.42 238.17,391.61 238.89,391.8 239.62,391.97 240.35,392.15 241.07,392.31 241.8,392.47 242.53,392.63 243.26,392.78 243.98,392.93 244.71,393.07 245.44,393.21 246.16,393.34 246.89,393.47 247.62,393.59 248.35,393.71 249.07,393.83 249.8,393.94 250.53,394.05 251.26,394.16 251.98,394.26 252.71,394.36 253.44,394.45 254.16,394.54 254.89,394.63 255.62,394.72 256.35,394.8 257.07,394.88 257.8,394.96 258.53,395.03 259.25,395.11 259.98,395.18 260.71,395.25 261.44,395.31 262.16,395.38 262.89,395.44 263.62,395.5 264.35,395.55 265.07,395.61 265.8,395.66 266.53,395.71 267.25,395.76 267.98,395.81 268.71,395.86 269.44,395.9 270.16,395.95 270.89,395.99" fill="none" stroke="#1a8c1a" stroke-width="1.6" stroke-linejoin="round" />
<polyline points="52.72,232.59 53.45,232.94 54.18,233.3 54.91,233.67 55.63,234.05 56.36,234.45 57.09,234.85 57.81,235.27 58.54,235.7 59.27,236.15 60,236.61 60.72,237.08 61.45,237.57 62.18,238.07 62.9,238.59 63.63,239.12 64.36,239.67 65.09,240.23 65.81,240.81 66.54,241.41 67.27,242.02 68,242.65 68.72,243.3 69.45,243.97 70.18,244.66 70.9,245.36 71.63,246.08 72.36,246.83 73.09,247.59 73.81,248.37 74.54,249.17 75.27,249.99 75.99,250.84 76.72,251.7 77.45,252.58 78.18,253.49 78.9,254.42 79.63,255.36 80.36,256.33 81.09,257.32 81.81,258.34 82.54,259.37 83.27,260.43 83.99,261.5 84.72,262.6 85.45,263.72 86.18,264.87 86.9,266.03 87.63,267.21 88.36,268.42 89.08,269.65 89.81,270.89 90.54,272.16 91.27,273.45 91.99,274.75 92.72,276.08 93.45,277.42 94.18,278.78 94.9,280.16 95.63,281.56 96.36,282.97 97.08,284.4 97.81,285.84 98.54,287.3 99.27,288.77 99.99,290.25 100.72,291.75 101.45,293.26 102.17,294.78 102.9,296.3 103.63,297.84 104.36,299.38 105.08,300.93 105.81,302.49 106.54,304.05 107.27,305.61 107.99,307.18 108.72,308.74 109.45,310.31 110.17,311.88 110.9,313.45 111.63,315.01 112.36,316.58 113.08,318.13 113.81,319.69 114.54,321.23 115.26,322.77 115.99,324.3 116.72,325.82 117.45,327.33 118.17,328.83 118.9,330.32 119.63,331.8 120.36,333.26 121.08,334.71 121.81,336.15 122.54,337.56 123.26,338.97 123.99,340.35 124.72,341.72 125.45,343.07 126.17,344.41 126.9,345.72 127.63,347.02 128.35,348.29 129.08,349.55 129.81,350.78 130.54,351.99 131.26,353.19 131.99,354.36 132.72,355.51 133.45,356.64 134.17,357.75 134.9,358.83 135.63,359.9 136.35,360.94 137.08,361.96 137.81,362.96 138.54,363.94 139.26,364.9 139.99,365.83 140.72,366.75 141.44,367.64 142.17,368.51 142.9,369.36 143.63,370.19 144.35,371 145.08,371.79 145.81,372.56 146.54,373.31 147.26,374.05 147.99,374.76 148.72,375.45 149.44,376.13 150.17,376.78 150.9,377.42 151.63,378.04 152.35,378.65 153.08,379.23 153.81,379.8 154.53,380.36 155.26,380.9 155.99,381.42 156.72,381.93 157.44,382.42 158.17,382.9 158.9,383.37 159.63,383.82 160.35,384.25 161.08,384.68 161.81,385.09 162.53,385.49 163.26,385.87 163.99,386.25 164.72,386.61 165.44,386.96 166.17,387.3 166.9,387.63 167.62,387.95 168.35,388.26 169.08,388.56 169.81,388.85 170.53,389.13 171.26,389.41 171.99,389.67 172.72,389.92 173.44,390.17 174.17,390.41 174.9,390.64 175.62,390.86 176.35,391.08 177.08,391.29 177.81,391.49 178.53,391.68 179.26,391.87 179.99,392.06 180.71,392.23 181.44,392.4 182.17,392.57 182.9,392.73 183.62,392.88 184.35,393.03 185.08,393.17 185.81,393.31 186.53,393.45 187.26,393.58 187.99,393.7 188.71,393.82 189.44,393.94 190.17,394.05 190.9,394.16 191.62,394.27 192.35,394.37 193.08,394.47 193.8,394.56 194.53,394.65 195.26,394.74 195.99,394.83 196.71,394.91 197.44,394.99 198.17,395.07 198.9,395.14 199.62,395.21 200.35,395.28 201.08,395.35 201.8,395.41 202.53,395.48 203.26,395.54 203.99,395.6 204.71,395.65 205.44,395.71 206.17,395.76 206.89,395.81 207.62,395.86 208.35,395.9 209.08,395.95 209.8,395.99 210.53,396.04 211.26,396.08 211.99,396.12 212.71,396.15 213.44,396.19 214.17,396.23 214.89,396.26 215.62,396.29 216.35,396.32 217.08,396.36 217.8,396.39 218.53,396.41 219.26,396.44 219.98,396.47 220.71,396.49 221.44,396.52 222.17,396.54 222.89,396.57 223.62,396.59 224.35,396.61 225.08,396.63 225.8,396.65 226.53,396.67 227.26,396.69 227.98,396.71 228.71,396.72 229.44,396.74 230.17,396.76 230.89,396.77 231.62,396.79 232.35,396.8 233.07,396.82 233.8,396.83 234.53,396.84 235.26,396.86 235.98,396.87 236.71,396.88 237.44,396.89 238.17,396.9 238.89,396.91 239.62,396.92 240.35,396.93 241.07,396.94 241.8,396.95 242.53,396.96 243.26,396.97 243.98,396.98 244.71,396.98 245.44,396.99 246.16,397 246.89,397.01 247.62,397.01 248.35,397.02 249.07,397.03 249.8,397.03 250.53,397.04 251.26,397.04 251.98,397.05 252.71,397.05 253.44,397.06 254.16,397.06 254.89,397.07 255.62,397.07 256.35,397.08 257.07,397.08 257.8,397.09 258.53,397.09 259.25,397.09 259.98,397.1 260.71,397.1 261.44,397.11 262.16,397.11 262.89,397.11 263.62,397.11 264.35,397.12 265.07,397.12 265.8,397.12 266.53,397.13 267.25,397.13 267.98,397.13 268.71,397.13 269.44,397.14 270.16,397.14 270.89,397.14" fill="none" stroke="#1c1cf0" stroke-width="1.6" stroke-linejoin="round" />
<text x="111.6" y="265.5" font-size="6.4" text-anchor="middle" fill="#1a8c1a" font-weight="bold"  stroke="#1a8c1a" stroke-width="0.160">~73%</text>
<text x="82.3" y="369" font-size="6.4" text-anchor="middle" fill="#1c1cf0" font-weight="bold"  stroke="#1c1cf0" stroke-width="0.160">~15%</text>
<text x="104.6" y="344.2" font-size="6.0" text-anchor="middle" fill="#1c1cf0" font-weight="bold" transform="rotate(-90 104.6 344.2)" letter-spacing="0.4" stroke="#1c1cf0" stroke-width="0.150">TQ<tspan font-size="3.4" dy="2">1/2</tspan><tspan dy="-2">=~374 K</tspan></text>
<text x="141.4" y="330" font-size="6.7" text-anchor="middle" fill="#ff8c1a" font-weight="bold" transform="rotate(-90 141.4 330)"  stroke="#ff8c1a" stroke-width="0.168">@423 K</text>
<text x="173.5" y="351.2" font-size="6.0" text-anchor="middle" fill="#1a8c1a" font-weight="bold" transform="rotate(-90 173.5 351.2)" letter-spacing="0.4" stroke="#1a8c1a" stroke-width="0.150">TQ<tspan font-size="3.4" dy="2">1/2</tspan><tspan dy="-2">=~454 K</tspan></text>
<circle cx="56.3" cy="222.5" r="2.2" fill="#fff" fill-opacity="0.45" stroke="#1a8c1a" stroke-width="0.7" stroke-opacity="0.55"/>
<path d="M54.1,222.5 A2.2,2.2 0 0 1 58.5,222.5 Z" fill="#1a8c1a"/>
<circle cx="72.75" cy="226.52" r="2.2" fill="#fff" fill-opacity="0.45" stroke="#1a8c1a" stroke-width="0.7" stroke-opacity="0.55"/>
<path d="M70.55,226.52 A2.2,2.2 0 0 1 74.95,226.52 Z" fill="#1a8c1a"/>
<circle cx="108.52" cy="231.58" r="2.2" fill="#fff" fill-opacity="0.45" stroke="#1a8c1a" stroke-width="0.7" stroke-opacity="0.55"/>
<path d="M106.32,231.58 A2.2,2.2 0 0 1 110.72,231.58 Z" fill="#1a8c1a"/>
<circle cx="144.28" cy="268.1" r="2.2" fill="#fff" fill-opacity="0.45" stroke="#1a8c1a" stroke-width="0.7" stroke-opacity="0.55"/>
<path d="M142.08,268.1 A2.2,2.2 0 0 1 146.48,268.1 Z" fill="#1a8c1a"/>
<circle cx="180.05" cy="337.8" r="2.2" fill="#fff" fill-opacity="0.45" stroke="#1a8c1a" stroke-width="0.7" stroke-opacity="0.55"/>
<path d="M177.85,337.8 A2.2,2.2 0 0 1 182.25,337.8 Z" fill="#1a8c1a"/>
<circle cx="215.81" cy="380.6" r="2.2" fill="#fff" fill-opacity="0.45" stroke="#1a8c1a" stroke-width="0.7" stroke-opacity="0.55"/>
<path d="M213.61,380.6 A2.2,2.2 0 0 1 218.01,380.6 Z" fill="#1a8c1a"/>
<circle cx="251.58" cy="392.66" r="2.2" fill="#fff" fill-opacity="0.45" stroke="#1a8c1a" stroke-width="0.7" stroke-opacity="0.55"/>
<path d="M249.38,392.66 A2.2,2.2 0 0 1 253.78,392.66 Z" fill="#1a8c1a"/>
<circle cx="56.3" cy="222.5" r="2.2" fill="#fff" fill-opacity="0.45" stroke="#1c1cf0" stroke-width="0.7" stroke-opacity="0.55"/>
<path d="M54.1,222.5 A2.2,2.2 0 0 1 58.5,222.5 Z" fill="#1c1cf0"/>
<circle cx="72.75" cy="243.99" r="2.2" fill="#fff" fill-opacity="0.45" stroke="#1c1cf0" stroke-width="0.7" stroke-opacity="0.55"/>
<path d="M70.55,243.99 A2.2,2.2 0 0 1 74.95,243.99 Z" fill="#1c1cf0"/>
<circle cx="90.63" cy="272.11" r="2.2" fill="#fff" fill-opacity="0.45" stroke="#1c1cf0" stroke-width="0.7" stroke-opacity="0.55"/>
<path d="M88.43,272.11 A2.2,2.2 0 0 1 92.83,272.11 Z" fill="#1c1cf0"/>
<circle cx="108.52" cy="310.9" r="2.2" fill="#fff" fill-opacity="0.45" stroke="#1c1cf0" stroke-width="0.7" stroke-opacity="0.55"/>
<path d="M106.32,310.9 A2.2,2.2 0 0 1 110.72,310.9 Z" fill="#1c1cf0"/>
<circle cx="126.4" cy="347.59" r="2.2" fill="#fff" fill-opacity="0.45" stroke="#1c1cf0" stroke-width="0.7" stroke-opacity="0.55"/>
<path d="M124.2,347.59 A2.2,2.2 0 0 1 128.6,347.59 Z" fill="#1c1cf0"/>
<circle cx="144.28" cy="367.5" r="2.2" fill="#fff" fill-opacity="0.45" stroke="#1c1cf0" stroke-width="0.7" stroke-opacity="0.55"/>
<path d="M142.08,367.5 A2.2,2.2 0 0 1 146.48,367.5 Z" fill="#1c1cf0"/>
<circle cx="162.16" cy="379.73" r="2.2" fill="#fff" fill-opacity="0.45" stroke="#1c1cf0" stroke-width="0.7" stroke-opacity="0.55"/>
<path d="M159.96,379.73 A2.2,2.2 0 0 1 164.36,379.73 Z" fill="#1c1cf0"/>
<circle cx="180.05" cy="387.42" r="2.2" fill="#fff" fill-opacity="0.45" stroke="#1c1cf0" stroke-width="0.7" stroke-opacity="0.55"/>
<path d="M177.85,387.42 A2.2,2.2 0 0 1 182.25,387.42 Z" fill="#1c1cf0"/>
<rect x="173.7" y="219" width="95.9" height="47.7" fill="none" stroke="#888" stroke-width="0.7" />
<circle cx="186.3" cy="226.2" r="2" fill="#fff" fill-opacity="0.45" stroke="#1a8c1a" stroke-width="0.7" stroke-opacity="0.55"/>
<path d="M184.3,226.2 A2,2 0 0 1 188.3,226.2 Z" fill="#1a8c1a"/>
<circle cx="186.3" cy="240.2" r="2" fill="#fff" fill-opacity="0.45" stroke="#1c1cf0" stroke-width="0.7" stroke-opacity="0.55"/>
<path d="M184.3,240.2 A2,2 0 0 1 188.3,240.2 Z" fill="#1c1cf0"/>
<text x="194.7" y="229.4" font-size="6.6" text-anchor="start" fill="#000" font-weight="bold"  stroke="#000" stroke-width="0.165">Er<tspan font-size="4.0" dy="-2.8">3+</tspan><tspan dy="2.8">-Yb</tspan><tspan font-size="4.0" dy="-2.8">3+</tspan><tspan dy="2.8">-Al</tspan><tspan font-size="4.0" dy="-2.8">3+</tspan><tspan dy="2.8">: Bi</tspan><tspan font-size="4.0" dy="2.2">4</tspan><tspan dy="-2.2">Ti</tspan><tspan font-size="4.0" dy="2.2">3</tspan><tspan dy="-2.2">O</tspan><tspan font-size="4.0" dy="2.2">12</tspan></text>
<text x="194.7" y="242" font-size="6.6" text-anchor="start" fill="#000" font-weight="bold"  stroke="#000" stroke-width="0.165">Er<tspan font-size="4.0" dy="-2.8">3+</tspan><tspan dy="2.8">-Yb</tspan><tspan font-size="4.0" dy="-2.8">3+</tspan><tspan dy="2.8">: Bi</tspan><tspan font-size="4.0" dy="2.2">4</tspan><tspan dy="-2.2">Ti</tspan><tspan font-size="4.0" dy="2.2">3</tspan><tspan dy="-2.2">O</tspan><tspan font-size="4.0" dy="2.2">12</tspan></text>
<line x1="178" y1="252.5" x2="194.5" y2="252.5" stroke="#1a8c1a" stroke-width="1.3" />
<line x1="178" y1="262" x2="194.5" y2="262" stroke="#1c1cf0" stroke-width="1.3" />
<text x="196" y="254.8" font-size="6.6" text-anchor="start" fill="#000" font-weight="bold"  stroke="#000" stroke-width="0.165">Fitted Line</text>
<text x="196" y="264.3" font-size="6.6" text-anchor="start" fill="#000" font-weight="bold"  stroke="#000" stroke-width="0.165">Fitted Line</text>
<line x1="335.3" y1="219.1" x2="547.9" y2="219.1" stroke="#8a8a8a" stroke-width="1.6" />
<line x1="547.9" y1="219.1" x2="547.9" y2="394.8" stroke="#8a8a8a" stroke-width="1.6" />
<line x1="335.3" y1="394.8" x2="547.9" y2="394.8" stroke="#7a7a7a" stroke-width="1.5" />
<line x1="335.3" y1="219.1" x2="335.3" y2="394.8" stroke="#6a6a6a" stroke-width="1.4" />
<line x1="335.3" y1="394.8" x2="335.3" y2="398.4" stroke="#3a3a3a" stroke-width="1.2" />
<line x1="356.56" y1="394.8" x2="356.56" y2="398.4" stroke="#3a3a3a" stroke-width="1.2" />
<line x1="377.82" y1="394.8" x2="377.82" y2="398.4" stroke="#3a3a3a" stroke-width="1.2" />
<line x1="399.08" y1="394.8" x2="399.08" y2="398.4" stroke="#3a3a3a" stroke-width="1.2" />
<line x1="420.34" y1="394.8" x2="420.34" y2="398.4" stroke="#3a3a3a" stroke-width="1.2" />
<line x1="441.6" y1="394.8" x2="441.6" y2="398.4" stroke="#3a3a3a" stroke-width="1.2" />
<line x1="462.86" y1="394.8" x2="462.86" y2="398.4" stroke="#3a3a3a" stroke-width="1.2" />
<line x1="484.12" y1="394.8" x2="484.12" y2="398.4" stroke="#3a3a3a" stroke-width="1.2" />
<line x1="505.38" y1="394.8" x2="505.38" y2="398.4" stroke="#3a3a3a" stroke-width="1.2" />
<line x1="526.64" y1="394.8" x2="526.64" y2="398.4" stroke="#3a3a3a" stroke-width="1.2" />
<line x1="547.9" y1="394.8" x2="547.9" y2="398.4" stroke="#3a3a3a" stroke-width="1.2" />
<line x1="345.93" y1="394.8" x2="345.93" y2="396.8" stroke="#3a3a3a" stroke-width="1.2" />
<line x1="367.19" y1="394.8" x2="367.19" y2="396.8" stroke="#3a3a3a" stroke-width="1.2" />
<line x1="388.45" y1="394.8" x2="388.45" y2="396.8" stroke="#3a3a3a" stroke-width="1.2" />
<line x1="409.71" y1="394.8" x2="409.71" y2="396.8" stroke="#3a3a3a" stroke-width="1.2" />
<line x1="430.97" y1="394.8" x2="430.97" y2="396.8" stroke="#3a3a3a" stroke-width="1.2" />
<line x1="452.23" y1="394.8" x2="452.23" y2="396.8" stroke="#3a3a3a" stroke-width="1.2" />
<line x1="473.49" y1="394.8" x2="473.49" y2="396.8" stroke="#3a3a3a" stroke-width="1.2" />
<line x1="494.75" y1="394.8" x2="494.75" y2="396.8" stroke="#3a3a3a" stroke-width="1.2" />
<line x1="516.01" y1="394.8" x2="516.01" y2="396.8" stroke="#3a3a3a" stroke-width="1.2" />
<line x1="537.27" y1="394.8" x2="537.27" y2="396.8" stroke="#3a3a3a" stroke-width="1.2" />
<line x1="335.3" y1="394.8" x2="331.9" y2="394.8" stroke="#3a3a3a" stroke-width="1.2" />
<line x1="335.3" y1="382.25" x2="331.9" y2="382.25" stroke="#3a3a3a" stroke-width="1.2" />
<line x1="335.3" y1="369.7" x2="331.9" y2="369.7" stroke="#3a3a3a" stroke-width="1.2" />
<line x1="335.3" y1="357.15" x2="331.9" y2="357.15" stroke="#3a3a3a" stroke-width="1.2" />
<line x1="335.3" y1="344.6" x2="331.9" y2="344.6" stroke="#3a3a3a" stroke-width="1.2" />
<line x1="335.3" y1="332.05" x2="331.9" y2="332.05" stroke="#3a3a3a" stroke-width="1.2" />
<line x1="335.3" y1="319.5" x2="331.9" y2="319.5" stroke="#3a3a3a" stroke-width="1.2" />
<line x1="335.3" y1="306.95" x2="331.9" y2="306.95" stroke="#3a3a3a" stroke-width="1.2" />
<line x1="335.3" y1="294.4" x2="331.9" y2="294.4" stroke="#3a3a3a" stroke-width="1.2" />
<line x1="335.3" y1="281.85" x2="331.9" y2="281.85" stroke="#3a3a3a" stroke-width="1.2" />
<line x1="335.3" y1="269.3" x2="331.9" y2="269.3" stroke="#3a3a3a" stroke-width="1.2" />
<line x1="335.3" y1="256.75" x2="331.9" y2="256.75" stroke="#3a3a3a" stroke-width="1.2" />
<line x1="335.3" y1="244.2" x2="331.9" y2="244.2" stroke="#3a3a3a" stroke-width="1.2" />
<line x1="335.3" y1="231.65" x2="331.9" y2="231.65" stroke="#3a3a3a" stroke-width="1.2" />
<line x1="335.3" y1="219.1" x2="331.9" y2="219.1" stroke="#3a3a3a" stroke-width="1.2" />
<line x1="335.3" y1="388.52" x2="333.3" y2="388.52" stroke="#3a3a3a" stroke-width="1.2" />
<line x1="335.3" y1="375.98" x2="333.3" y2="375.98" stroke="#3a3a3a" stroke-width="1.2" />
<line x1="335.3" y1="363.43" x2="333.3" y2="363.43" stroke="#3a3a3a" stroke-width="1.2" />
<line x1="335.3" y1="350.88" x2="333.3" y2="350.88" stroke="#3a3a3a" stroke-width="1.2" />
<line x1="335.3" y1="338.32" x2="333.3" y2="338.32" stroke="#3a3a3a" stroke-width="1.2" />
<line x1="335.3" y1="325.77" x2="333.3" y2="325.77" stroke="#3a3a3a" stroke-width="1.2" />
<line x1="335.3" y1="313.22" x2="333.3" y2="313.22" stroke="#3a3a3a" stroke-width="1.2" />
<line x1="335.3" y1="300.68" x2="333.3" y2="300.68" stroke="#3a3a3a" stroke-width="1.2" />
<line x1="335.3" y1="288.12" x2="333.3" y2="288.12" stroke="#3a3a3a" stroke-width="1.2" />
<line x1="335.3" y1="275.57" x2="333.3" y2="275.57" stroke="#3a3a3a" stroke-width="1.2" />
<line x1="335.3" y1="263.02" x2="333.3" y2="263.02" stroke="#3a3a3a" stroke-width="1.2" />
<line x1="335.3" y1="250.47" x2="333.3" y2="250.47" stroke="#3a3a3a" stroke-width="1.2" />
<line x1="335.3" y1="237.92" x2="333.3" y2="237.92" stroke="#3a3a3a" stroke-width="1.2" />
<line x1="335.3" y1="225.38" x2="333.3" y2="225.38" stroke="#3a3a3a" stroke-width="1.2" />
<text x="335.3" y="406.1" font-size="7.4" text-anchor="middle" fill="#000" font-weight="bold"  stroke="#000" stroke-width="0.180">18</text>
<text x="356.56" y="406.1" font-size="7.4" text-anchor="middle" fill="#000" font-weight="bold"  stroke="#000" stroke-width="0.180">20</text>
<text x="377.82" y="406.1" font-size="7.4" text-anchor="middle" fill="#000" font-weight="bold"  stroke="#000" stroke-width="0.180">22</text>
<text x="399.08" y="406.1" font-size="7.4" text-anchor="middle" fill="#000" font-weight="bold"  stroke="#000" stroke-width="0.180">24</text>
<text x="420.34" y="406.1" font-size="7.4" text-anchor="middle" fill="#000" font-weight="bold"  stroke="#000" stroke-width="0.180">26</text>
<text x="441.6" y="406.1" font-size="7.4" text-anchor="middle" fill="#000" font-weight="bold"  stroke="#000" stroke-width="0.180">28</text>
<text x="462.86" y="406.1" font-size="7.4" text-anchor="middle" fill="#000" font-weight="bold"  stroke="#000" stroke-width="0.180">30</text>
<text x="484.12" y="406.1" font-size="7.4" text-anchor="middle" fill="#000" font-weight="bold"  stroke="#000" stroke-width="0.180">32</text>
<text x="505.38" y="406.1" font-size="7.4" text-anchor="middle" fill="#000" font-weight="bold"  stroke="#000" stroke-width="0.180">34</text>
<text x="526.64" y="406.1" font-size="7.4" text-anchor="middle" fill="#000" font-weight="bold"  stroke="#000" stroke-width="0.180">36</text>
<text x="547.9" y="406.1" font-size="7.4" text-anchor="middle" fill="#000" font-weight="bold"  stroke="#000" stroke-width="0.180">38</text>
<text x="329.8" y="397.05" font-size="7.4" text-anchor="end" fill="#000" font-weight="bold"  stroke="#000" stroke-width="0.180">-7</text>
<text x="329.8" y="384.5" font-size="7.4" text-anchor="end" fill="#000" font-weight="bold"  stroke="#000" stroke-width="0.180">-6</text>
<text x="329.8" y="371.95" font-size="7.4" text-anchor="end" fill="#000" font-weight="bold"  stroke="#000" stroke-width="0.180">-5</text>
<text x="329.8" y="359.4" font-size="7.4" text-anchor="end" fill="#000" font-weight="bold"  stroke="#000" stroke-width="0.180">-4</text>
<text x="329.8" y="346.85" font-size="7.4" text-anchor="end" fill="#000" font-weight="bold"  stroke="#000" stroke-width="0.180">-3</text>
<text x="329.8" y="334.3" font-size="7.4" text-anchor="end" fill="#000" font-weight="bold"  stroke="#000" stroke-width="0.180">-2</text>
<text x="329.8" y="321.75" font-size="7.4" text-anchor="end" fill="#000" font-weight="bold"  stroke="#000" stroke-width="0.180">-1</text>
<text x="329.8" y="309.2" font-size="7.4" text-anchor="end" fill="#000" font-weight="bold"  stroke="#000" stroke-width="0.180">0</text>
<text x="329.8" y="296.65" font-size="7.4" text-anchor="end" fill="#000" font-weight="bold"  stroke="#000" stroke-width="0.180">1</text>
<text x="329.8" y="284.1" font-size="7.4" text-anchor="end" fill="#000" font-weight="bold"  stroke="#000" stroke-width="0.180">2</text>
<text x="329.8" y="271.55" font-size="7.4" text-anchor="end" fill="#000" font-weight="bold"  stroke="#000" stroke-width="0.180">3</text>
<text x="329.8" y="259" font-size="7.4" text-anchor="end" fill="#000" font-weight="bold"  stroke="#000" stroke-width="0.180">4</text>
<text x="329.8" y="246.45" font-size="7.4" text-anchor="end" fill="#000" font-weight="bold"  stroke="#000" stroke-width="0.180">5</text>
<text x="329.8" y="233.9" font-size="7.4" text-anchor="end" fill="#000" font-weight="bold"  stroke="#000" stroke-width="0.180">6</text>
<text x="329.8" y="221.35" font-size="7.4" text-anchor="end" fill="#000" font-weight="bold"  stroke="#000" stroke-width="0.180">7</text>
<text x="435.6" y="420.6" font-size="9.6" text-anchor="middle" fill="#000" font-weight="bold"  stroke="#000" stroke-width="0.180">1/k<tspan font-size="4.6" dy="3.6">&#946;</tspan><tspan dy="-3.6">T</tspan></text>
<text x="319" y="307.6" font-size="9.8" text-anchor="middle" fill="#000" font-weight="bold" transform="rotate(-90 319 307.6)"  stroke="#000" stroke-width="0.180">ln[(I<tspan font-size="6" dy="2.5">0</tspan><tspan dy="-2.5">/I</tspan><tspan font-size="6" dy="2.5">T</tspan><tspan dy="-2.5">)-1]</tspan></text>
<text x="337.75" y="391.5" font-size="16" text-anchor="start" fill="#000" font-weight="bold"  stroke="#000" stroke-width="0.180">(d)</text>
<clipPath id="cd"><rect x="335.3" y="219.1" width="212.59999999999997" height="175.70000000000002"/></clipPath>
<g clip-path="url(#cd)">
<line x1="335.3" y1="238.55" x2="547.9" y2="341.46" stroke="#1c1cf0" stroke-width="1.5" />
<line x1="335.3" y1="247.71" x2="547.9" y2="397.56" stroke="#1a8c1a" stroke-width="1.5" />
</g>
<circle cx="358.69" cy="261.77" r="2.7" fill="#fff" fill-opacity="0.45" stroke="#1a8c1a" stroke-width="0.7" stroke-opacity="0.55"/>
<path d="M355.99,261.77 A2.7,2.7 0 0 1 361.39,261.77 Z" fill="#1a8c1a"/>
<circle cx="379.63" cy="278.34" r="2.7" fill="#fff" fill-opacity="0.45" stroke="#1a8c1a" stroke-width="0.7" stroke-opacity="0.55"/>
<path d="M376.93,278.34 A2.7,2.7 0 0 1 382.33,278.34 Z" fill="#1a8c1a"/>
<circle cx="403.97" cy="298.79" r="2.7" fill="#fff" fill-opacity="0.45" stroke="#1a8c1a" stroke-width="0.7" stroke-opacity="0.55"/>
<path d="M401.27,298.79 A2.7,2.7 0 0 1 406.67,298.79 Z" fill="#1a8c1a"/>
<circle cx="435.65" cy="319.5" r="2.7" fill="#fff" fill-opacity="0.45" stroke="#1a8c1a" stroke-width="0.7" stroke-opacity="0.55"/>
<path d="M432.95,319.5 A2.7,2.7 0 0 1 438.35,319.5 Z" fill="#1a8c1a"/>
<circle cx="474.55" cy="343.34" r="2.7" fill="#fff" fill-opacity="0.45" stroke="#1a8c1a" stroke-width="0.7" stroke-opacity="0.55"/>
<path d="M471.85,343.34 A2.7,2.7 0 0 1 477.25,343.34 Z" fill="#1a8c1a"/>
<circle cx="525.9" cy="350.25" r="2.7" fill="#fff" fill-opacity="0.45" stroke="#1a8c1a" stroke-width="0.7" stroke-opacity="0.55"/>
<path d="M523.2,350.25 A2.7,2.7 0 0 1 528.6,350.25 Z" fill="#1a8c1a"/>
<circle cx="404.82" cy="272.06" r="2.7" fill="#fff" fill-opacity="0.45" stroke="#1c1cf0" stroke-width="0.7" stroke-opacity="0.55"/>
<path d="M402.12,272.06 A2.7,2.7 0 0 1 407.52,272.06 Z" fill="#1c1cf0"/>
<circle cx="418.85" cy="279.84" r="2.7" fill="#fff" fill-opacity="0.45" stroke="#1c1cf0" stroke-width="0.7" stroke-opacity="0.55"/>
<path d="M416.15,279.84 A2.7,2.7 0 0 1 421.55,279.84 Z" fill="#1c1cf0"/>
<circle cx="435.65" cy="286.87" r="2.7" fill="#fff" fill-opacity="0.45" stroke="#1c1cf0" stroke-width="0.7" stroke-opacity="0.55"/>
<path d="M432.95,286.87 A2.7,2.7 0 0 1 438.35,286.87 Z" fill="#1c1cf0"/>
<circle cx="453.82" cy="294.4" r="2.7" fill="#fff" fill-opacity="0.45" stroke="#1c1cf0" stroke-width="0.7" stroke-opacity="0.55"/>
<path d="M451.12,294.4 A2.7,2.7 0 0 1 456.52,294.4 Z" fill="#1c1cf0"/>
<circle cx="474.55" cy="306.32" r="2.7" fill="#fff" fill-opacity="0.45" stroke="#1c1cf0" stroke-width="0.7" stroke-opacity="0.55"/>
<path d="M471.85,306.32 A2.7,2.7 0 0 1 477.25,306.32 Z" fill="#1c1cf0"/>
<circle cx="498.47" cy="317.49" r="2.7" fill="#fff" fill-opacity="0.45" stroke="#1c1cf0" stroke-width="0.7" stroke-opacity="0.55"/>
<path d="M495.77,317.49 A2.7,2.7 0 0 1 501.17,317.49 Z" fill="#1c1cf0"/>
<circle cx="525.9" cy="330.79" r="2.7" fill="#fff" fill-opacity="0.45" stroke="#1c1cf0" stroke-width="0.7" stroke-opacity="0.55"/>
<path d="M523.2,330.79 A2.7,2.7 0 0 1 528.6,330.79 Z" fill="#1c1cf0"/>
<text x="461.65" y="281.7" font-size="7.35" text-anchor="middle" fill="#1c1cf0" font-weight="bold"  stroke="#1c1cf0" stroke-width="0.180">Slope=-0.41</text>
<text x="428" y="339.8" font-size="7.3" text-anchor="middle" fill="#1a8c1a" font-weight="bold"  stroke="#1a8c1a" stroke-width="0.180">Slope=-0.60</text>
<rect x="453.4" y="220.6" width="93.3" height="46.7" fill="none" stroke="#888" stroke-width="0.7" />
<circle cx="465.7" cy="228.2" r="2" fill="#fff" fill-opacity="0.45" stroke="#1a8c1a" stroke-width="0.7" stroke-opacity="0.55"/>
<path d="M463.7,228.2 A2,2 0 0 1 467.7,228.2 Z" fill="#1a8c1a"/>
<circle cx="465.7" cy="241.3" r="2" fill="#fff" fill-opacity="0.45" stroke="#1c1cf0" stroke-width="0.7" stroke-opacity="0.55"/>
<path d="M463.7,241.3 A2,2 0 0 1 467.7,241.3 Z" fill="#1c1cf0"/>
<text x="473.5" y="230.9" font-size="6.6" text-anchor="start" fill="#000" font-weight="bold"  stroke="#000" stroke-width="0.165">Er<tspan font-size="4.0" dy="-2.8">3+</tspan><tspan dy="2.8">-Yb</tspan><tspan font-size="4.0" dy="-2.8">3+</tspan><tspan dy="2.8">-Al</tspan><tspan font-size="4.0" dy="-2.8">3+</tspan><tspan dy="2.8">: Bi</tspan><tspan font-size="4.0" dy="2.2">4</tspan><tspan dy="-2.2">Ti</tspan><tspan font-size="4.0" dy="2.2">3</tspan><tspan dy="-2.2">O</tspan><tspan font-size="4.0" dy="2.2">12</tspan></text>
<text x="473.5" y="243.8" font-size="6.6" text-anchor="start" fill="#000" font-weight="bold"  stroke="#000" stroke-width="0.165">Er<tspan font-size="4.0" dy="-2.8">3+</tspan><tspan dy="2.8">-Yb</tspan><tspan font-size="4.0" dy="-2.8">3+</tspan><tspan dy="2.8">: Bi</tspan><tspan font-size="4.0" dy="2.2">4</tspan><tspan dy="-2.2">Ti</tspan><tspan font-size="4.0" dy="2.2">3</tspan><tspan dy="-2.2">O</tspan><tspan font-size="4.0" dy="2.2">12</tspan></text>
<line x1="458.2" y1="253.3" x2="474" y2="253.3" stroke="#1c1cf0" stroke-width="1.3" />
<line x1="458.2" y1="262.5" x2="474" y2="262.5" stroke="#1a8c1a" stroke-width="1.3" />
<text x="475" y="255.6" font-size="6.6" text-anchor="start" fill="#000" font-weight="bold"  stroke="#000" stroke-width="0.165">Fitted Line</text>
<text x="475" y="264.8" font-size="6.6" text-anchor="start" fill="#000" font-weight="bold"  stroke="#000" stroke-width="0.165">Fitted Line</text>
</svg>
</body></html>
